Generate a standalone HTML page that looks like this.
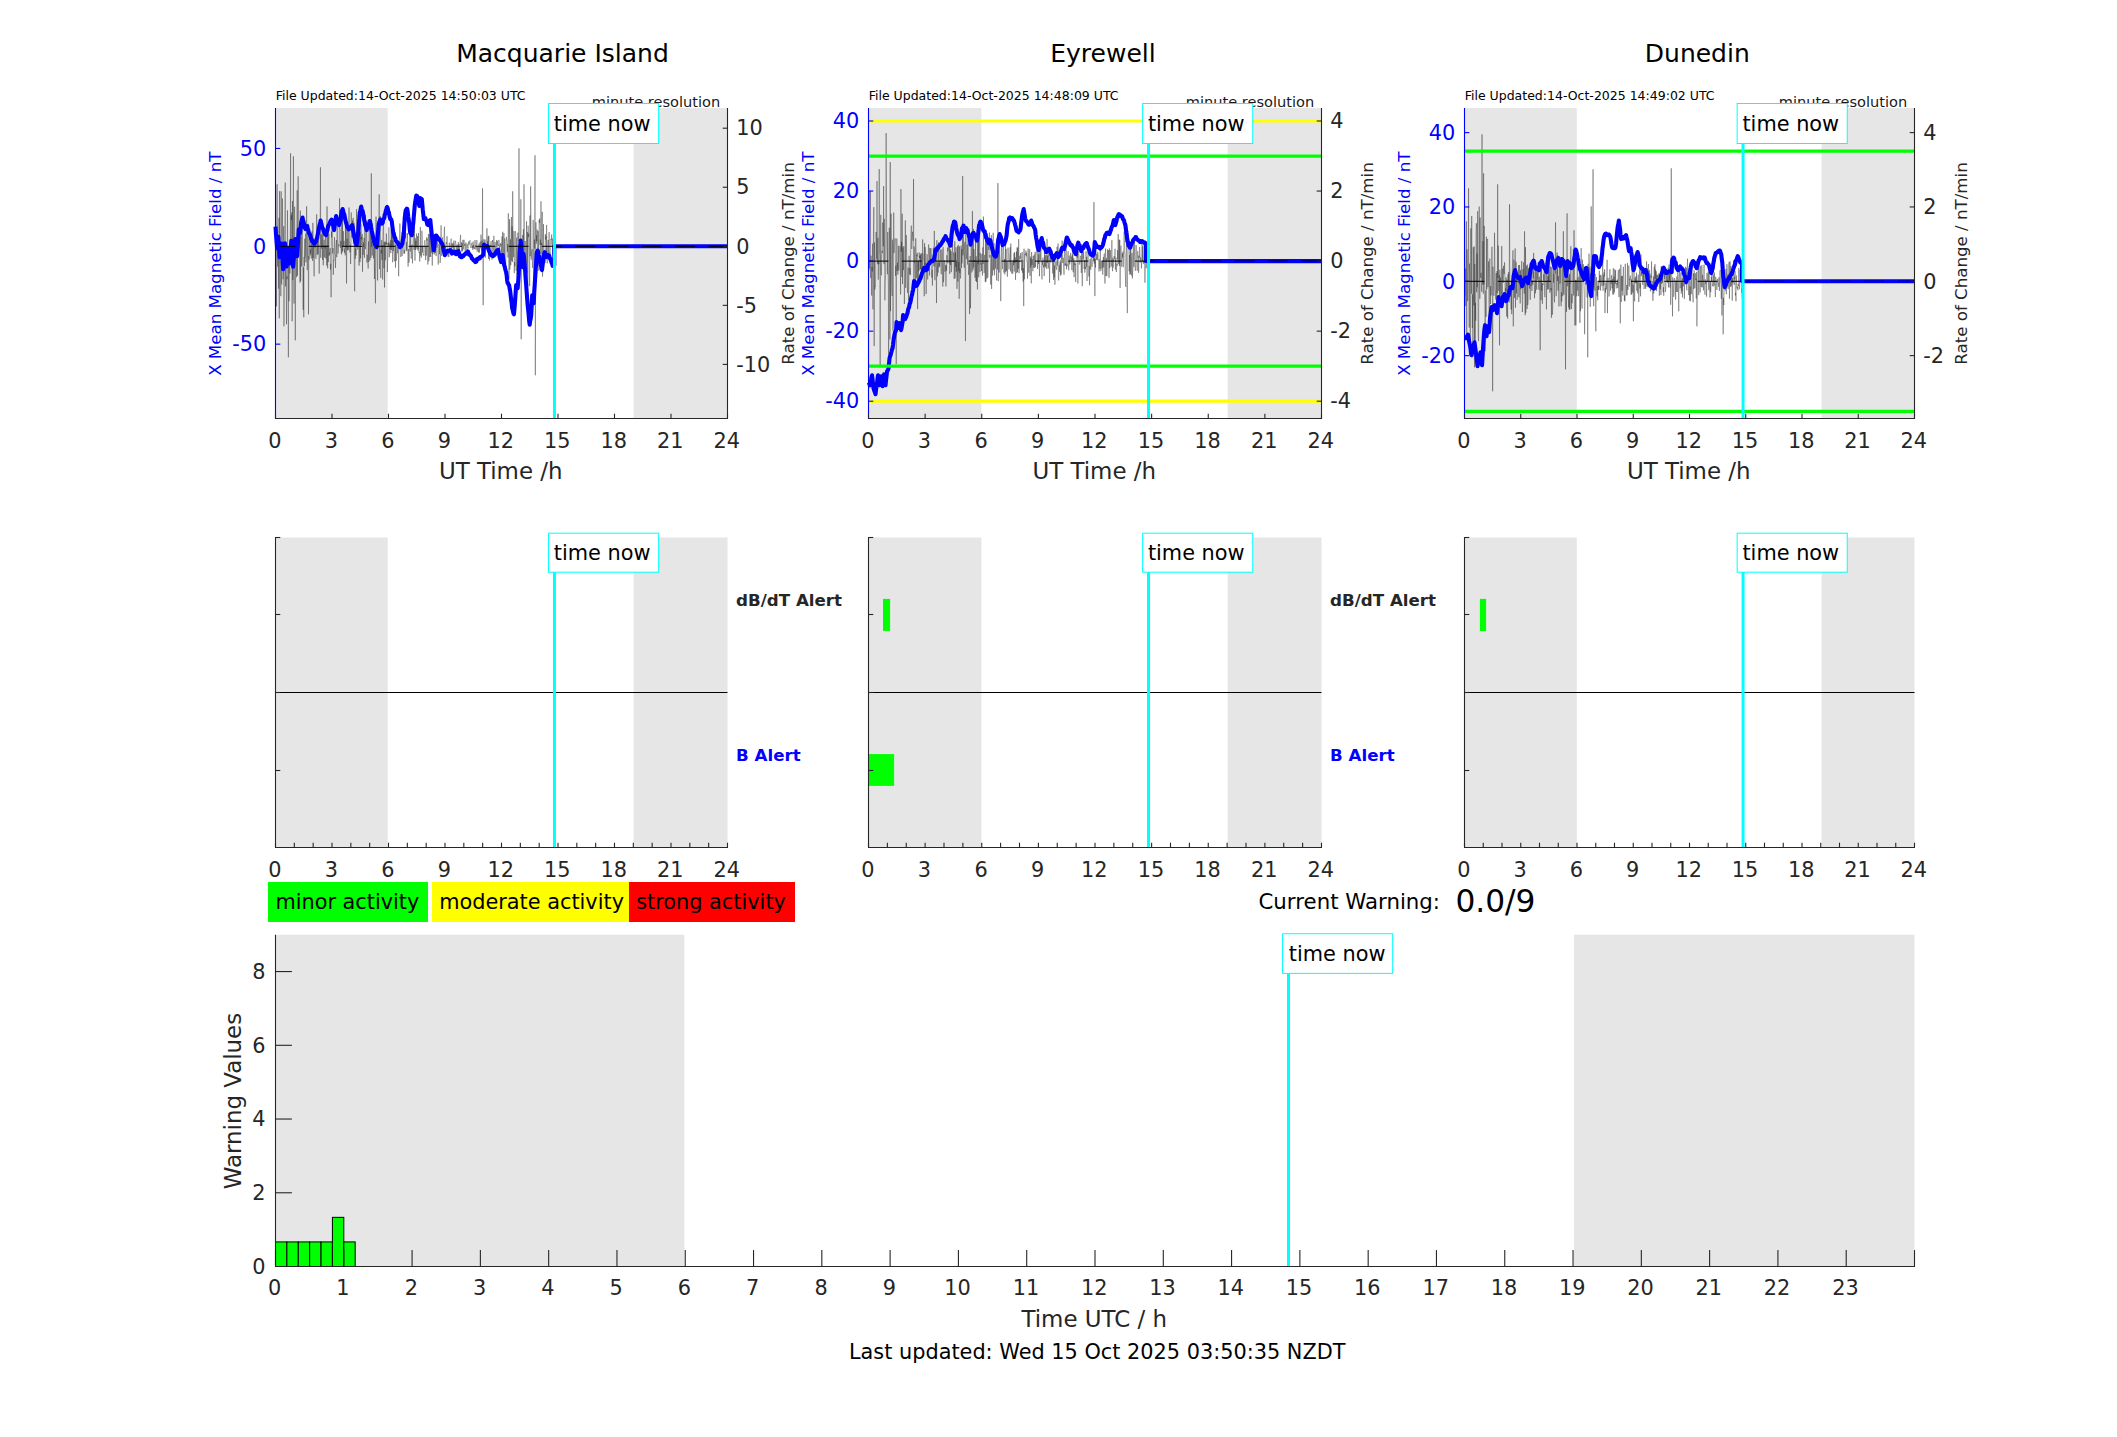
<!DOCTYPE html>
<html><head><meta charset="utf-8"><title>Geomagnetic activity</title>
<style>html,body{margin:0;padding:0;background:#fff}svg{display:block}text{font-family:"DejaVu Sans","Liberation Sans",sans-serif}</style>
</head><body>
<svg width="2117" height="1437" viewBox="0 0 2117 1437">
<rect width="2117" height="1437" fill="#fff"/>
<text x="720.2" y="106.6" font-size="14.58" fill="#1a1a1a" text-anchor="end" >minute resolution</text>
<text x="1314.2" y="106.6" font-size="14.58" fill="#1a1a1a" text-anchor="end" >minute resolution</text>
<text x="1907.2" y="106.6" font-size="14.58" fill="#1a1a1a" text-anchor="end" >minute resolution</text>
<rect x="275.5" y="108" width="112.2" height="310.5" fill="#e6e6e6" />
<rect x="633.63" y="108" width="93.87" height="310.5" fill="#e6e6e6" />
<path d="M275.5,188.63 275.81,232.23 276.13,243.19 276.44,306.38 276.76,255.24 277.07,184.3 277.39,248.97 277.7,266.51 278.01,247.71 278.33,261.69 278.64,288.66 278.96,217.78 279.27,318.3 279.58,191.18 279.9,244.69 280.21,259.35 280.53,263.88 280.84,296.16 281.16,191.3 281.47,281.8 281.78,284.51 282.1,252.93 282.41,198.39 282.73,238.67 283.04,279.31 283.35,269.29 283.67,226.14 283.98,326.3 284.3,271.09 284.61,253.72 284.93,222.28 285.24,182.59 285.55,286.41 285.87,266.5 286.18,272.21 286.5,324.29 286.81,276.08 287.12,279.2 287.44,210.29 287.75,250.51 288.07,297.97 288.38,357.3 288.7,257.57 289.01,301.26 289.32,265.05 289.64,264.74 289.95,273.59 290.27,245.38 290.58,153.3 290.89,254.58 291.21,215.07 291.52,220.1 291.84,212.37 292.15,321.3 292.47,201.06 292.78,280.2 293.09,220.75 293.41,156.3 293.72,264.39 294.04,303.56 294.35,215.06 294.66,206.68 294.98,252.14 295.29,340.3 295.61,266.14 295.92,241.89 296.24,241.83 296.55,277.27 296.86,233.6 297.18,190.27 297.49,275.81 297.81,220.49 298.12,176.3 298.43,196.47 298.75,232.88 299.06,227.81 299.38,228.98 299.69,239.7 300.01,282.73 300.32,210.55 300.63,280.95 300.95,240.37 301.26,231.28 301.58,266.44 301.89,242.87 302.2,219.19 302.52,246.85 302.83,266.2 303.15,309.71 303.46,267.26 303.78,317.3 304.09,257.01 304.4,265.82 304.72,238.78 305.03,257.51 305.35,248.39 305.66,233.59 305.97,262.26 306.29,251.88 306.6,206.27 306.92,230.13 307.23,270.15 307.55,247.77 307.86,235.96 308.17,223.77 308.49,314.3 308.8,255.93 309.12,259.52 309.43,234.66 309.74,240.67 310.06,255.57 310.37,249.68 310.69,253.72 311,233.42 311.32,258.52 311.63,237.71 311.94,231.31 312.26,237.77 312.57,260.89 312.89,222.85 313.2,258.09 313.51,238.91 313.83,259.31 314.14,276.32 314.46,242.43 314.77,241.39 315.09,247.62 315.4,241.61 315.71,257.28 316.03,258.74 316.34,249.13 316.66,214.29 316.97,232.69 317.28,254.96 317.6,237.03 317.91,254.21 318.23,253.84 318.54,232.18 318.86,254.9 319.17,273.64 319.48,261.04 319.8,244.87 320.11,244.23 320.43,167.3 320.74,257.78 321.05,234.61 321.37,239.52 321.68,248.67 322,233.08 322.31,238.54 322.63,259.84 322.94,229.53 323.25,265.34 323.57,245.37 323.88,246.26 324.2,239.75 324.51,257.45 324.82,246.84 325.14,248.45 325.45,231.14 325.77,258.36 326.08,245.2 326.4,250.23 326.71,265.74 327.02,206.36 327.34,247.36 327.65,268.32 327.97,225.51 328.28,262.04 328.59,240.87 328.91,233.71 329.22,255.72 329.54,252.54 329.85,254.09 330.17,248.16 330.48,269.52 330.79,263.91 331.11,297.3 331.42,231.61 331.74,237.4 332.05,222.02 332.37,236.56 332.68,253.47 332.99,248.02 333.31,274.77 333.62,259.77 333.94,260.6 334.25,242.51 334.56,237.23 334.88,254.15 335.19,254.54 335.51,267.94 335.82,248.09 336.14,242.83 336.45,240.07 336.76,257.24 337.08,218.52 337.39,229.61 337.71,247.63 338.02,253.66 338.33,250.79 338.65,244.19 338.96,246.56 339.28,239.56 339.59,198.3 339.91,227.27 340.22,230.32 340.53,247.83 340.85,240.9 341.16,251.69 341.48,254.47 341.79,219.73 342.1,252.69 342.42,218.64 342.73,251.15 343.05,242.79 343.36,231.18 343.68,245.97 343.99,240.85 344.3,249.65 344.62,252.89 344.93,248.6 345.25,255.3 345.56,223.7 345.87,248.62 346.19,222.45 346.5,283.46 346.82,246.05 347.13,238.53 347.45,250.36 347.76,231.17 348.07,237.46 348.39,250.09 348.7,240.29 349.02,207.48 349.33,242.82 349.64,242.17 349.96,252.37 350.27,244.46 350.59,264.07 350.9,249.03 351.22,212.45 351.53,231.6 351.84,237.47 352.16,231.11 352.47,220.41 352.79,238.14 353.1,217.83 353.41,231.6 353.73,244.01 354.04,222.68 354.36,278.7 354.67,291.3 354.99,242.65 355.3,258.81 355.61,248.44 355.93,255.06 356.24,255.27 356.56,209.14 356.87,237.71 357.18,247.04 357.5,228.3 357.81,249.55 358.13,234.19 358.44,241.5 358.76,224.06 359.07,265.7 359.38,235.84 359.7,244.63 360.01,262.1 360.33,231.76 360.64,258.2 360.95,224.21 361.27,239.3 361.58,236.82 361.9,245.2 362.21,233.98 362.53,271.71 362.84,245.28 363.15,254.85 363.47,242.45 363.78,246.94 364.1,237.92 364.41,257.69 364.72,221.31 365.04,214.84 365.35,249.13 365.67,246.5 365.98,242.4 366.3,229.15 366.61,220.57 366.92,262.65 367.24,254.64 367.55,260.69 367.87,261.37 368.18,268.5 368.49,241.39 368.81,261.98 369.12,225.96 369.44,234.02 369.75,260.24 370.07,260.3 370.38,254.66 370.69,227.11 371.01,258 371.32,173.3 371.64,246.99 371.95,241.09 372.26,255.5 372.58,223.54 372.89,242.91 373.21,239.88 373.52,258.47 373.84,246.87 374.15,248.55 374.46,279.03 374.78,242.14 375.09,272.36 375.41,303.3 375.72,267.87 376.03,216.63 376.35,241.49 376.66,233.55 376.98,232.64 377.29,266.07 377.61,280.48 377.92,251.26 378.23,232.76 378.55,244.92 378.86,234.35 379.18,194.3 379.49,269.18 379.8,241.87 380.12,215.93 380.43,255.14 380.75,277.87 381.06,249.91 381.38,253.48 381.69,239.88 382,259.88 382.32,244.93 382.63,279.53 382.95,233.6 383.26,222.89 383.57,227.3 383.89,268.31 384.2,241.7 384.52,287.53 384.83,242.29 385.15,247.2 385.46,260.19 385.77,241.55 386.09,244.41 386.4,233.52 386.72,244.58 387.03,243.16 387.35,272.08 387.66,261.53 387.97,252.5 388.29,242.47 388.6,246.38 388.92,227.28 389.23,257.23 389.54,249.28 389.86,243.16 390.17,249.13 390.49,240.31 390.8,253.14 391.12,229.45 391.43,250.05 391.74,233.32 392.06,246.65 392.37,229.24 392.69,262.27 393,240.4 393.31,251.23 393.63,243.67 393.94,232.73 394.26,259.24 394.57,261.3 394.89,257.62 395.2,243.42 395.51,267.64 395.83,245.21 396.14,260.82 396.46,259.2 396.77,250.46 397.08,242.02 397.4,253.34 397.71,251.82 398.03,246.77 398.34,249.35 398.66,276.24 398.97,251.11 399.28,245.35 399.6,234.06 399.91,223.51 400.23,238.88 400.54,245.42 400.85,257.01 401.17,245.31 401.48,237.67 401.8,232.31 402.11,256.03 402.43,243.69 402.74,237.31 403.05,225.8 403.37,243.49 403.68,252.25 404,253.87 404.31,250.22 404.62,253.44 404.94,237.26 405.25,234.61 405.57,238.39 405.88,233.3 406.2,251.24 406.51,242.16 406.82,250.48 407.14,245.83 407.45,233.02 407.77,246.62 408.08,266.47 408.39,249.03 408.71,253.99 409.02,262.56 409.34,254.81 409.65,235.97 409.97,228.24 410.28,251.55 410.59,235.56 410.91,233.69 411.22,258.7 411.54,246.72 411.85,246.77 412.16,244.46 412.48,263.26 412.79,250.01 413.11,235.07 413.42,232.91 413.74,226.9 414.05,249.87 414.36,226.54 414.68,239.27 414.99,260.63 415.31,238.28 415.62,250.01 415.93,240.85 416.25,247.38 416.56,233.64 416.88,243.61 417.19,249.25 417.51,236.22 417.82,243.63 418.13,250.6 418.45,233.01 418.76,250.54 419.08,252.92 419.39,251.9 419.7,261.48 420.02,252.02 420.33,227.07 420.65,255.67 420.96,246.21 421.28,257.71 421.59,252.59 421.9,230.7 422.22,237.1 422.53,252.55 422.85,246.24 423.16,254.74 423.47,254.31 423.79,255.63 424.1,255.44 424.42,242.98 424.73,240.24 425.05,241.35 425.36,248.02 425.67,260.05 425.99,246.98 426.3,255.63 426.62,237.41 426.93,240.7 427.24,238.79 427.56,249.8 427.87,264.47 428.19,236.7 428.5,234.02 428.82,261.13 429.13,244.92 429.44,234.4 429.76,257.02 430.07,228.71 430.39,249.77 430.7,256.97 431.01,232.7 431.33,243.38 431.64,252.76 431.96,237.61 432.27,265.59 432.59,228.42 432.9,254.33 433.21,243.49 433.53,250.21 433.84,242.02 434.16,237.61 434.47,254.35 434.78,238.62 435.1,249.17 435.41,253 435.73,248.48 436.04,256.06 436.36,254.02 436.67,237.1 436.98,247.76 437.3,235.27 437.61,242.13 437.93,256.19 438.24,264.57 438.55,252.91 438.87,243.76 439.18,246.22 439.5,254.25 439.81,236.61 440.13,262.98 440.44,258.31 440.75,245.09 441.07,225.43 441.38,242.37 441.7,255.84 442.01,240.68 442.32,239.83 442.64,237.43 442.95,250.17 443.27,253.84 443.58,245.19 443.9,242.39 444.21,231.29 444.52,226.7 444.84,253.17 445.15,251.12 445.47,246.87 445.78,248.46 446.1,242.24 446.41,242.38 446.72,244.3 447.04,236.24 447.35,247.44 447.67,253.56 447.98,256.63 448.29,252.81 448.61,252.61 448.92,257.13 449.24,242.68 449.55,245.34 449.87,248.36 450.18,250.39 450.49,253.1 450.81,250.12 451.12,238.63 451.44,255.46 451.75,245.71 452.06,243.23 452.38,245.74 452.69,247.61 453.01,243.14 453.32,250.84 453.64,244.02 453.95,240.44 454.26,250.56 454.58,249.65 454.89,245.75 455.21,242.27 455.52,240.85 455.83,243.53 456.15,249.02 456.46,250.82 456.78,245.32 457.09,244.69 457.41,250.74 457.72,246.06 458.03,244.96 458.35,242.1 458.66,250.27 458.98,244.07 459.29,250.98 459.6,248 459.92,246.61 460.23,240.25 460.55,234.83 460.86,245.29 461.18,244.34 461.49,242.31 461.8,251.68 462.12,243.28 462.43,251.2 462.75,239.89 463.06,240.62 463.37,244.33 463.69,249.46 464,239.77 464.32,245.29 464.63,245.87 464.95,244.04 465.26,252.96 465.57,244.64 465.89,242.44 466.2,244.99 466.52,245.74 466.83,249.98 467.14,243.82 467.46,245.53 467.77,246.27 468.09,248.46 468.4,243.02 468.72,241.53 469.03,244.82 469.34,242.88 469.66,241.25 469.97,240.26 470.29,245.44 470.6,247.11 470.91,247.87 471.23,246.25 471.54,244.22 471.86,242.76 472.17,247.91 472.49,245.74 472.8,250.04 473.11,241.56 473.43,247.76 473.74,244.96 474.06,248.98 474.37,247.41 474.68,248.85 475,239.97 475.31,244.97 475.63,246.92 475.94,249.8 476.26,248.55 476.57,244.21 476.88,240.17 477.2,251.55 477.51,249.66 477.83,246.94 478.14,248.6 478.45,252.35 478.77,246.23 479.08,243.47 479.4,252.58 479.71,245.41 480.03,242.04 480.34,241.76 480.65,248.34 480.97,234.62 481.28,243.37 481.6,250.76 481.91,240.67 482.22,252.96 482.54,188.3 482.85,254.18 483.17,305.3 483.48,249.94 483.8,239.23 484.11,241.68 484.42,243.51 484.74,245.93 485.05,239.52 485.37,257.55 485.68,243.6 485.99,243.72 486.31,242.79 486.62,241.14 486.94,228.3 487.25,245.57 487.57,241.28 487.88,245.35 488.19,236.49 488.51,258.91 488.82,235.7 489.14,250.57 489.45,260.42 489.76,253.03 490.08,247.39 490.39,245.09 490.71,246.59 491.02,241.2 491.34,246.52 491.65,246.69 491.96,259.68 492.28,243.26 492.59,240 492.91,248.92 493.22,258.01 493.53,254.64 493.85,235.86 494.16,250.08 494.48,250.45 494.79,251.41 495.11,242.05 495.42,249.97 495.73,251.72 496.05,255.7 496.36,246.97 496.68,240.05 496.99,247.22 497.3,240.79 497.62,245.21 497.93,245.38 498.25,245.18 498.56,246.09 498.88,239.9 499.19,243.26 499.5,249.91 499.82,245.5 500.13,246.77 500.45,243.27 500.76,245.17 501.08,243.71 501.39,255.52 501.7,243.74 502.02,236.41 502.33,257.52 502.65,231.75 502.96,243.37 503.27,248.51 503.59,266.92 503.9,233.02 504.22,258.9 504.53,253.34 504.85,238.36 505.16,262.03 505.47,261.76 505.79,264.44 506.1,248.07 506.42,236.92 506.73,239.84 507.04,239.73 507.36,251.89 507.67,244.01 507.99,257.63 508.3,213.31 508.62,243.07 508.93,278.95 509.24,264.26 509.56,219.25 509.87,269.51 510.19,253.78 510.5,239.37 510.81,265.24 511.13,227.78 511.44,216.98 511.76,260.78 512.07,226.37 512.39,262.11 512.7,191.3 513.01,241.89 513.33,242.01 513.64,257.1 513.96,230.96 514.27,273.2 514.58,262.05 514.9,266.24 515.21,232.2 515.53,231.27 515.84,233.77 516.16,270.76 516.47,243.78 516.78,237.57 517.1,277.29 517.41,262.12 517.73,233.8 518.04,232.62 518.35,241.31 518.67,235.66 518.98,148.3 519.3,243.33 519.61,248.48 519.93,263.74 520.24,251.24 520.55,254.44 520.87,199.25 521.18,339.3 521.5,246.52 521.81,251.07 522.12,248.68 522.44,251.96 522.75,234.93 523.07,246.92 523.38,229.22 523.7,261 524.01,184.3 524.32,227.58 524.64,271.04 524.95,242.69 525.27,240.96 525.58,253.57 525.89,256.93 526.21,286.73 526.52,221.32 526.84,266.53 527.15,273.12 527.47,232.11 527.78,285.71 528.09,225.64 528.41,237.01 528.72,233.54 529.04,249.79 529.35,272.13 529.66,286.27 529.98,215.55 530.29,256.23 530.61,186.3 530.92,213.18 531.24,259.48 531.55,251.25 531.86,251.22 532.18,249.15 532.49,267.76 532.81,257.83 533.12,219.91 533.43,230.72 533.75,305.18 534.06,286.16 534.38,239.53 534.69,248.59 535.01,155.3 535.32,375.3 535.63,282.1 535.95,222.3 536.26,243.68 536.58,235.39 536.89,241.28 537.2,229.57 537.52,251.24 537.83,256.96 538.15,230.98 538.46,242.88 538.78,270.74 539.09,220.08 539.4,222.85 539.72,218.46 540.03,244.77 540.35,239.57 540.66,253.6 540.97,201.3 541.29,245.05 541.6,242.95 541.92,258.83 542.23,211.81 542.55,276.67 542.86,261.57 543.17,258.42 543.49,224.11 543.8,250.49 544.12,251.32 544.43,259.22 544.74,256.79 545.06,263.07 545.37,234.13 545.69,239.53 546,236.15 546.32,252.51 546.63,224.91 546.94,254.46 547.26,263.39 547.57,248.73 547.89,245.16 548.2,240.01 548.51,254.77 548.83,241.38 549.14,232.09 549.46,253.39 549.77,252.46 550.09,260.47 550.4,244.3 550.71,239.17 551.03,239.92 551.34,239.36 551.66,234.52 551.97,245.24 552.28,238.37 552.6,254.22 552.91,252.88 553.23,244.3 553.54,253.11 553.86,241.54 554.17,234.86 554.48,242.94 554.8,252.44" fill="none" stroke="#202020" stroke-width="0.36" stroke-linejoin="bevel"/>
<path d="M275.5,226.59 276.02,234.74 276.55,241.53 277.07,248.3 277.49,244.22 277.92,241.11 278.35,236.71 278.96,246.85 279.56,257.09 280.07,254.37 280.57,250.4 281.07,247.11 281.57,243.44 282.1,252.12 282.62,260.57 283.15,269.09 283.61,261.85 284.06,256.28 284.52,248.58 284.98,243.41 285.54,251.37 286.1,259.33 286.66,266.47 287.13,263.07 287.59,257.62 288.05,252.49 288.51,248.36 288.95,252.49 289.4,259.44 289.85,263.37 290.32,255.05 290.79,248.8 291.26,240.78 291.72,246 292.19,253.73 292.66,260.62 293.13,266.74 293.66,259.98 294.19,252.85 294.72,245.48 295.25,239 295.74,242.81 296.23,248.16 296.71,252.14 297.2,256.2 297.73,247.16 298.25,238.4 298.78,229.33 299.21,230.07 299.63,232.4 300.06,233.09 300.56,228.78 301.06,223.07 301.56,220.81 302.06,219.45 302.56,217.56 303.06,220.31 303.56,221.55 304.06,224.07 304.57,226.86 305.07,228.24 305.57,229.08 306.14,227.93 306.7,227.62 307.27,226.08 307.7,229 308.14,229.4 308.57,232.09 309.07,233.43 309.58,234.01 310.08,235.1 310.58,236.48 311.08,238.49 311.58,239.34 312.08,241.11 312.58,240.84 313.08,241.33 313.58,242.6 314.08,243.46 314.58,243.61 315.09,242.76 315.59,241.86 316.09,241.11 316.59,239.09 317.09,237.81 317.59,235.1 318.09,232.72 318.59,229.34 319.09,227.08 319.59,224.75 320.1,223.4 320.6,220.57 321.1,222.42 321.6,224.69 322.1,227.08 322.6,228.32 323.1,229 323.6,231.33 324.1,232.09 324.6,231.64 325.1,234.39 325.61,234.1 326.11,235.1 326.61,232.4 327.11,231.24 327.61,229.08 328.11,226.14 328.61,225.08 329.11,224.37 329.61,223.5 330.11,222.07 330.62,220.92 331.12,220.19 331.62,219.57 332.12,221.92 332.62,222.87 333.12,225.08 333.62,227.59 334.12,230.09 334.62,225.77 335.12,221.07 335.62,219.42 336.13,216.06 336.63,217.79 337.13,220.09 337.63,222.07 338.13,223.69 338.63,222.67 339.13,225.08 339.63,223.26 340.13,220.69 340.63,220.07 341.14,214.55 341.64,211.05 342.14,211.12 342.64,209.05 343.14,210.83 343.64,213.2 344.14,214.06 344.64,216.26 345.14,219.03 345.64,221.07 346.14,222.83 346.65,224.78 347.15,227.08 347.65,227.54 348.15,228.15 348.65,229.43 349.15,229.08 349.65,228.31 350.15,227.96 350.65,227.08 351.15,226.27 351.66,225.82 352.16,225.08 352.66,227.03 353.16,231.02 353.66,233.09 354.16,235.48 354.66,238.46 355.16,241.11 355.66,242.32 356.16,244.32 356.66,245.11 357.17,241.39 357.67,237.11 358.17,233.09 358.67,226.51 359.17,219.92 359.67,213.05 360.17,211.3 360.67,208.99 361.17,206.54 361.67,208.75 362.18,210.44 362.68,211.05 363.18,214.14 363.68,215.83 364.18,220.28 364.68,222.07 365.18,225.26 365.68,225.88 366.18,227.85 366.68,230.09 367.18,227.62 367.69,227.84 368.19,226.08 368.69,223.85 369.19,223.74 369.69,221.07 370.19,222.04 370.69,225.78 371.19,228.08 371.69,230.96 372.19,232.87 372.7,235.16 373.2,238.1 373.7,239.99 374.2,241.32 374.7,243.17 375.2,245.11 375.7,245.76 376.2,246.14 376.7,247.12 377.2,240.98 377.7,235.1 378.21,230.02 378.71,224.07 379.21,222.36 379.71,221.16 380.21,219.57 380.71,220.15 381.21,222.07 381.71,221.86 382.21,223.57 382.71,222.72 383.22,219.15 383.72,218.94 384.22,218.06 384.72,214.85 385.22,213.94 385.72,211.05 386.22,209.86 386.72,207.66 387.22,207.04 387.72,208.4 388.22,211.12 388.73,212.05 389.23,214.35 389.73,217.03 390.23,219.06 390.73,218.9 391.23,219.56 391.73,221.07 392.23,225.38 392.73,229.08 393.23,232.68 393.74,233.45 394.24,236.1 394.74,237.66 395.24,238.07 395.74,240.53 396.24,241.11 396.74,241.59 397.24,242.36 397.74,242.31 398.24,244.11 398.74,244.62 399.25,245.7 399.75,247.11 400.25,247.12 400.75,245.7 401.25,246.14 401.75,244.66 402.25,244.11 402.75,240.93 403.25,237.56 403.75,235.1 404.26,225.62 404.76,218.06 405.26,213.37 405.76,210.05 406.26,210.59 406.76,208.7 407.26,209.05 407.76,212.46 408.26,216.98 408.76,220.07 409.26,223.22 409.77,228.97 410.27,233.09 410.77,233.45 411.27,234.5 411.77,235.1 412.27,231.53 412.77,226.97 413.27,223.07 413.77,216.92 414.27,211.42 414.78,205.04 415.28,202.19 415.78,198.27 416.28,195.52 416.78,196.06 417.28,196.09 417.78,197.52 418.28,201.04 418.78,202.51 419.28,206.04 419.78,202.11 420.29,198.02 420.79,199.29 421.29,199.11 421.79,199.03 422.29,204.35 422.79,210.05 423.29,214.13 423.79,219.06 424.29,218.36 424.79,218.88 425.3,218.06 425.8,219.56 426.3,220.71 426.8,222.07 427.3,224.48 427.8,223.59 428.3,225.08 428.8,222.78 429.3,221.07 429.8,220.34 430.3,220.07 430.81,225.18 431.31,230.09 431.81,234.58 432.31,238.6 432.81,243.11 433.31,247 433.81,250.12 434.31,246.4 434.81,241.92 435.31,238.1 435.82,235.48 436.32,235.6 436.82,236.89 437.32,236.8 437.82,237.84 438.32,239.1 438.82,239.5 439.32,239.39 439.82,240.13 440.32,241.11 440.82,241.86 441.33,242.38 441.83,243.49 442.33,244.11 442.83,245.93 443.33,248.61 443.83,251.13 444.33,252.5 444.83,255.13 445.33,253.93 445.83,253.24 446.34,252.13 446.84,251.69 447.34,250.79 447.84,251.22 448.34,251.13 448.84,250.91 449.34,251.2 449.84,250.3 450.34,250.12 450.84,250.6 451.34,250.94 451.85,253.43 452.35,253.13 452.85,252.31 453.35,251.96 453.85,252.25 454.35,252.13 454.85,251.58 455.35,253.67 455.85,253.69 456.35,254.13 456.86,253.6 457.36,252.05 457.86,251.55 458.36,251.13 458.86,252.81 459.36,254.09 459.86,256.4 460.36,256.14 460.86,257.03 461.36,255.72 461.86,257.14 462.37,256.65 462.87,255.9 463.37,256.2 463.87,255.05 464.37,254.63 464.87,254.45 465.37,253.59 465.87,253.68 466.37,253.73 466.87,252.18 467.38,252.13 467.88,251.48 468.38,252.53 468.88,254.46 469.38,254.13 469.88,254.97 470.38,255.44 470.88,255.83 471.38,257.14 471.88,258.44 472.38,258.77 472.89,259.3 473.39,260.14 473.89,260.32 474.39,261.03 474.89,261.44 475.39,262.15 475.89,261.81 476.39,261.57 476.89,259.16 477.39,259.64 477.9,258.51 478.4,258.96 478.9,258.76 479.4,257.56 479.9,258.14 480.42,257.27 480.95,256.89 481.48,256.36 482,256.14 482.55,255.34 483.1,255.11 483.6,249.78 484.1,244.59 484.6,245.89 485.1,246.64 485.61,247.1 486.11,247.14 486.61,246.72 487.11,245.92 487.61,246.1 488.11,247.47 488.61,249.79 489.11,251.11 489.61,252.14 490.11,253.52 490.62,254.23 491.12,255.11 491.62,255.37 492.12,255.83 492.62,254.99 493.12,256.12 493.62,255.5 494.12,254.76 494.62,255.05 495.12,254.11 495.62,252.71 496.13,252.21 496.63,251.11 497.13,250.34 497.63,250.33 498.13,249.6 498.63,252.47 499.13,254.47 499.63,257.12 500.13,258.81 500.63,260.52 501.14,262.13 501.64,260.18 502.14,257.24 502.64,255.11 503.14,258.44 503.64,261.52 504.14,265.13 504.64,266.32 505.14,268.7 505.64,270.59 506.14,272.15 506.65,275.34 507.15,280.32 507.65,283.17 508.15,283.38 508.65,284.87 509.15,285.17 509.65,288.68 510.15,290.87 510.65,295.19 511.15,299.48 511.66,302.97 512.16,308.22 512.61,309.62 513.06,311.55 513.51,313.7 513.96,314.23 514.56,307.6 515.16,300.2 515.66,291.8 516.16,285.17 516.66,285.94 517.17,287.96 517.67,288.18 518.17,281.72 518.67,275.15 519.17,264.06 519.67,251.11 520.17,245.4 520.67,240.59 521.17,245.5 521.67,251.11 522.18,258.33 522.68,267.14 523.18,260.37 523.68,254.11 524.18,260.27 524.68,265.13 525.18,271.26 525.68,278.91 526.18,285.17 526.68,292.06 527.18,298.92 527.69,305.21 528.19,309.91 528.69,314.95 529.19,320.99 529.69,324.75 530.19,320.84 530.69,318.77 531.19,315.23 531.69,306 532.19,295.19 532.7,298.07 533.2,301.4 533.7,303.21 534.2,292.51 534.7,285.17 535.2,277.44 535.7,270.14 536.2,260.94 536.7,253.11 537.2,251.58 537.7,250.61 538.21,252.67 538.71,255.16 539.21,257.12 539.71,259.27 540.21,262.89 540.71,265.13 541.14,265.89 541.58,268.95 542.01,270.14 542.61,264.94 543.22,260.12 543.72,256.42 544.22,253.75 544.72,252.11 545.22,252.73 545.72,254.84 546.22,257.12 546.72,256.62 547.22,256.78 547.72,255.99 548.22,255.11 548.73,255.32 549.23,255.79 549.73,257.89 550.23,259.12 550.73,259.61 551.23,261.63 551.73,263.13 552.17,263.35 552.6,265.81 553.03,265.13 554.3,265.13 554.3,246.3 727.5,246.3" fill="none" stroke="#0000ff" stroke-width="4.1" stroke-linejoin="round" stroke-linecap="butt"/>
<line x1="275.5" y1="246.3" x2="727.5" y2="246.3" stroke="#000" stroke-width="1.25" stroke-dasharray="20 13.3" stroke-opacity="0.82"/>
<line x1="554.45" y1="123.5" x2="554.45" y2="418.5" stroke="#00ffff" stroke-width="3" />
<rect x="548.55" y="103.5" width="110.1" height="40" fill="#fff" stroke="#00ffff" stroke-width="1"/>
<text x="553.85" y="131" font-size="20.83" fill="#000" text-anchor="start" >time now</text>
<line x1="275.5" y1="418.5" x2="727.5" y2="418.5" stroke="#262626" stroke-width="1.1" />
<line x1="727.5" y1="108" x2="727.5" y2="419" stroke="#262626" stroke-width="1.1" />
<line x1="275.5" y1="108" x2="275.5" y2="419" stroke="#0000ff" stroke-width="1.1" />
<line x1="275.5" y1="418.5" x2="275.5" y2="413.7" stroke="#262626" stroke-width="1.1" />
<text x="274.8" y="448" font-size="20.83" fill="#262626" text-anchor="middle" >0</text>
<line x1="332" y1="418.5" x2="332" y2="413.7" stroke="#262626" stroke-width="1.1" />
<text x="331.3" y="448" font-size="20.83" fill="#262626" text-anchor="middle" >3</text>
<line x1="388.5" y1="418.5" x2="388.5" y2="413.7" stroke="#262626" stroke-width="1.1" />
<text x="387.8" y="448" font-size="20.83" fill="#262626" text-anchor="middle" >6</text>
<line x1="445" y1="418.5" x2="445" y2="413.7" stroke="#262626" stroke-width="1.1" />
<text x="444.3" y="448" font-size="20.83" fill="#262626" text-anchor="middle" >9</text>
<line x1="501.5" y1="418.5" x2="501.5" y2="413.7" stroke="#262626" stroke-width="1.1" />
<text x="500.8" y="448" font-size="20.83" fill="#262626" text-anchor="middle" >12</text>
<line x1="558" y1="418.5" x2="558" y2="413.7" stroke="#262626" stroke-width="1.1" />
<text x="557.3" y="448" font-size="20.83" fill="#262626" text-anchor="middle" >15</text>
<line x1="614.5" y1="418.5" x2="614.5" y2="413.7" stroke="#262626" stroke-width="1.1" />
<text x="613.8" y="448" font-size="20.83" fill="#262626" text-anchor="middle" >18</text>
<line x1="671" y1="418.5" x2="671" y2="413.7" stroke="#262626" stroke-width="1.1" />
<text x="670.3" y="448" font-size="20.83" fill="#262626" text-anchor="middle" >21</text>
<line x1="727.5" y1="418.5" x2="727.5" y2="413.7" stroke="#262626" stroke-width="1.1" />
<text x="726.8" y="448" font-size="20.83" fill="#262626" text-anchor="middle" >24</text>
<line x1="275.5" y1="148.45" x2="280.3" y2="148.45" stroke="#0000ff" stroke-width="1.1" />
<text x="266.3" y="155.65" font-size="20.83" fill="#0000ff" text-anchor="end" >50</text>
<line x1="275.5" y1="246.3" x2="280.3" y2="246.3" stroke="#0000ff" stroke-width="1.1" />
<text x="266.3" y="253.5" font-size="20.83" fill="#0000ff" text-anchor="end" >0</text>
<line x1="275.5" y1="344.15" x2="280.3" y2="344.15" stroke="#0000ff" stroke-width="1.1" />
<text x="266.3" y="351.35" font-size="20.83" fill="#0000ff" text-anchor="end" >-50</text>
<line x1="727.5" y1="128.2" x2="722.7" y2="128.2" stroke="#262626" stroke-width="1.1" />
<text x="736.2" y="135.4" font-size="20.83" fill="#262626" text-anchor="start" >10</text>
<line x1="727.5" y1="187.25" x2="722.7" y2="187.25" stroke="#262626" stroke-width="1.1" />
<text x="736.2" y="194.45" font-size="20.83" fill="#262626" text-anchor="start" >5</text>
<line x1="727.5" y1="246.3" x2="722.7" y2="246.3" stroke="#262626" stroke-width="1.1" />
<text x="736.2" y="253.5" font-size="20.83" fill="#262626" text-anchor="start" >0</text>
<line x1="727.5" y1="305.35" x2="722.7" y2="305.35" stroke="#262626" stroke-width="1.1" />
<text x="736.2" y="312.55" font-size="20.83" fill="#262626" text-anchor="start" >-5</text>
<line x1="727.5" y1="364.4" x2="722.7" y2="364.4" stroke="#262626" stroke-width="1.1" />
<text x="736.2" y="371.6" font-size="20.83" fill="#262626" text-anchor="start" >-10</text>
<text x="500.7" y="478.6" font-size="22.92" fill="#262626" text-anchor="middle" >UT Time /h</text>
<text transform="translate(221.2 263.7) rotate(-90)" font-size="16.67" fill="#0000ff" text-anchor="middle">X Mean Magnetic Field / nT</text>
<text transform="translate(794 263.5) rotate(-90)" font-size="16.67" fill="#262626" text-anchor="middle">Rate of Change / nT/min</text>
<text x="562.5" y="61.8" font-size="25" fill="#000" text-anchor="middle" >Macquarie Island</text>
<text x="275.7" y="100" font-size="12.5" fill="#000" text-anchor="start" >File Updated:14-Oct-2025 14:50:03 UTC</text>
<rect x="868.5" y="108" width="112.9" height="310.5" fill="#e6e6e6" />
<rect x="1227.62" y="108" width="93.88" height="310.5" fill="#e6e6e6" />
<path d="M868.5,248.48 868.81,270.57 869.13,191.45 869.44,268.33 869.76,257.95 870.07,215.64 870.39,191.1 870.7,278.13 871.02,255.7 871.33,270.61 871.65,295.52 871.96,267.02 872.28,271.47 872.59,243.64 872.91,309.32 873.22,281.4 873.54,227.69 873.85,207.16 874.17,346.1 874.48,242.34 874.8,289.66 875.11,286.07 875.43,286.53 875.74,273.44 876.06,231.98 876.37,240.26 876.69,259.37 877,181.1 877.32,261 877.63,264.21 877.95,237.8 878.26,279.67 878.58,261.28 878.89,264.08 879.21,169.1 879.52,253.75 879.84,255.26 880.15,367.1 880.46,263.67 880.78,214.86 881.09,270.17 881.41,275.27 881.72,258.11 882.04,250.54 882.35,253.08 882.67,222.64 882.98,227.15 883.3,246.35 883.61,186.1 883.93,264.11 884.24,218.84 884.56,254.48 884.87,300.36 885.19,281.77 885.5,278.43 885.82,226.5 886.13,133.1 886.45,193.11 886.76,241.33 887.08,257.34 887.39,274.23 887.71,232.13 888.02,268.19 888.34,285.08 888.65,367.1 888.97,260.74 889.28,227.74 889.6,263.14 889.91,339.36 890.23,162.1 890.54,311.18 890.86,220.59 891.17,213.79 891.49,272.05 891.8,290.55 892.11,295.94 892.43,239.64 892.74,266 893.06,331.1 893.37,266.83 893.69,212.64 894,253.17 894.32,244.32 894.63,243.88 894.95,238.88 895.26,238.32 895.58,276.1 895.89,265.57 896.21,364.1 896.52,275.38 896.84,238.55 897.15,270.98 897.47,262.65 897.78,274.67 898.1,272.69 898.41,245.76 898.73,269.75 899.04,270.43 899.36,251.58 899.67,251.47 899.99,245.9 900.3,257.84 900.62,294.53 900.93,189.1 901.25,251.66 901.56,241.87 901.88,277.04 902.19,213.78 902.51,284.16 902.82,247.54 903.14,260.25 903.45,270.13 903.77,246.02 904.08,266.29 904.39,304 904.71,282.47 905.02,252.75 905.34,220.38 905.65,287.96 905.97,261.41 906.28,234.96 906.6,250.2 906.91,267.83 907.23,286.48 907.54,292.79 907.86,274.36 908.17,267.61 908.49,300.72 908.8,290.84 909.12,255.79 909.43,268.23 909.75,274.22 910.06,268.16 910.38,275.13 910.69,245.14 911.01,232.97 911.32,225.65 911.64,249.01 911.95,248.41 912.27,236.34 912.58,231.78 912.9,236.48 913.21,240.8 913.53,179.1 913.84,287.71 914.16,246.56 914.47,262.65 914.79,262.02 915.1,275.69 915.42,282.36 915.73,238.26 916.04,253.55 916.36,278.32 916.67,254.81 916.99,256.19 917.3,252.75 917.62,309.1 917.93,261.65 918.25,281.35 918.56,260.52 918.88,271.25 919.19,252.52 919.51,257.82 919.82,255.72 920.14,269.88 920.45,254.72 920.77,268.94 921.08,253.18 921.4,265.69 921.71,278.08 922.03,253.56 922.34,271.74 922.66,239.42 922.97,254.48 923.29,254.13 923.6,259.6 923.92,261.98 924.23,296.24 924.55,243.18 924.86,272.99 925.18,247.18 925.49,270.39 925.81,263.18 926.12,294.1 926.44,276.18 926.75,263.59 927.07,254.19 927.38,267.1 927.69,279.42 928.01,269.4 928.32,257.48 928.64,244.51 928.95,249.02 929.27,256.95 929.58,275.47 929.9,248.01 930.21,260.75 930.53,264.56 930.84,247.99 931.16,252.21 931.47,253.91 931.79,277.66 932.1,269.87 932.42,285.57 932.73,258.31 933.05,260.69 933.36,247.73 933.68,258.06 933.99,266.37 934.31,230.89 934.62,275.82 934.94,280.2 935.25,269.82 935.57,253.61 935.88,266.08 936.2,267.38 936.51,303.1 936.83,240.13 937.14,269.97 937.46,276.47 937.77,262.84 938.09,272.57 938.4,264.4 938.72,242.16 939.03,267.43 939.34,261.81 939.66,266.32 939.97,263.81 940.29,249.51 940.6,253.59 940.92,265.93 941.23,274.24 941.55,262.99 941.86,249.36 942.18,261.34 942.49,262.9 942.81,286.54 943.12,247.12 943.44,282.06 943.75,279.11 944.07,266.37 944.38,260.61 944.7,260.47 945.01,271.8 945.33,265.49 945.64,269.59 945.96,286.41 946.27,264.67 946.59,270.79 946.9,255.25 947.22,263.13 947.53,247.66 947.85,251.4 948.16,248.58 948.48,244.28 948.79,251.46 949.11,263.41 949.42,242.3 949.74,273.99 950.05,261.59 950.37,249.18 950.68,265.08 951,251.2 951.31,272.22 951.62,268.57 951.94,253.55 952.25,251.27 952.57,244.57 952.88,262.07 953.2,256.99 953.51,252.47 953.83,254.66 954.14,279.02 954.46,268.94 954.77,241.27 955.09,278.19 955.4,252.47 955.72,266.94 956.03,247.35 956.35,271.76 956.66,260.43 956.98,288.83 957.29,261.67 957.61,246.42 957.92,281.6 958.24,244.92 958.55,270.85 958.87,261.8 959.18,298.89 959.5,246.42 959.81,273.01 960.13,268.42 960.44,278.47 960.76,274.58 961.07,245.58 961.39,268 961.7,248.97 962.02,263.49 962.33,256.42 962.65,176.1 962.96,255.31 963.27,225.72 963.59,252.1 963.9,254.07 964.22,267.77 964.53,246.82 964.85,241.74 965.16,285.54 965.48,341.1 965.79,230.43 966.11,254.84 966.42,259.18 966.74,252.69 967.05,244.59 967.37,248.95 967.68,264.51 968,229.32 968.31,260.9 968.63,274.78 968.94,269.87 969.26,263.2 969.57,314.1 969.89,264.12 970.2,255.99 970.52,308.2 970.83,273.9 971.15,245.36 971.46,251.71 971.78,272.53 972.09,271.66 972.41,211.1 972.72,265.35 973.04,270.25 973.35,228.87 973.67,267.57 973.98,249.06 974.3,261.91 974.61,260.2 974.92,277.78 975.24,275.64 975.55,239.01 975.87,281.06 976.18,256.25 976.5,281.97 976.81,265.29 977.13,261.75 977.44,289.43 977.76,241.41 978.07,264.28 978.39,240.09 978.7,277.23 979.02,245.38 979.33,220.93 979.65,257.38 979.96,272.2 980.28,252.9 980.59,258.69 980.91,264.68 981.22,263.15 981.54,270.94 981.85,253.9 982.17,267.66 982.48,275.6 982.8,247.33 983.11,263.9 983.43,216.57 983.74,265.29 984.06,273.13 984.37,270.3 984.69,254.9 985,272.74 985.32,282.15 985.63,233.84 985.95,281.69 986.26,236.02 986.57,258.77 986.89,278.64 987.2,233.63 987.52,264.45 987.83,277.65 988.15,260.03 988.46,240.04 988.78,249.93 989.09,247.62 989.41,232.53 989.72,257.61 990.04,255 990.35,264.76 990.67,284.62 990.98,263.43 991.3,235.05 991.61,288.94 991.93,239.53 992.24,256.91 992.56,275.66 992.87,260.05 993.19,232.79 993.5,270.22 993.82,248.55 994.13,243.17 994.45,275.29 994.76,251.11 995.08,252.66 995.39,268.56 995.71,250.34 996.02,266.76 996.34,270.14 996.65,280.38 996.97,255.12 997.28,267.67 997.6,269.53 997.91,183.1 998.22,281.1 998.54,272.49 998.85,250.72 999.17,272.5 999.48,241.18 999.8,255.56 1000.11,258.99 1000.43,276.9 1000.74,301.1 1001.06,279.4 1001.37,254.43 1001.69,240.31 1002,263.5 1002.32,269.19 1002.63,261.32 1002.95,250.66 1003.26,245.91 1003.58,254.47 1003.89,272.6 1004.21,268.2 1004.52,258.99 1004.84,274.36 1005.15,263.6 1005.47,237.84 1005.78,272.07 1006.1,249.07 1006.41,270.77 1006.73,264.63 1007.04,261.83 1007.36,276.67 1007.67,262.19 1007.99,247.7 1008.3,253.7 1008.62,253.9 1008.93,269.4 1009.25,262.59 1009.56,259.02 1009.88,254.11 1010.19,247.29 1010.5,271.37 1010.82,243.64 1011.13,264.04 1011.45,263.68 1011.76,273.49 1012.08,261.79 1012.39,263.44 1012.71,273.74 1013.02,264.08 1013.34,259.86 1013.65,265.3 1013.97,253.14 1014.28,271.56 1014.6,252.02 1014.91,263 1015.23,257.31 1015.54,279.89 1015.86,259.79 1016.17,261.73 1016.49,251.59 1016.8,273.08 1017.12,247.26 1017.43,272.08 1017.75,247.75 1018.06,255.24 1018.38,268.74 1018.69,239.14 1019.01,273.19 1019.32,262.84 1019.64,259.01 1019.95,255.83 1020.27,258.82 1020.58,253.04 1020.9,256.47 1021.21,260.77 1021.53,270.45 1021.84,264.57 1022.15,252.03 1022.47,272.82 1022.78,259.99 1023.1,281.65 1023.41,268.07 1023.73,306.1 1024.04,248.64 1024.36,279.34 1024.67,263.5 1024.99,253.82 1025.3,255.02 1025.62,253.38 1025.93,250.5 1026.25,256.38 1026.56,252.78 1026.88,261.64 1027.19,261.36 1027.51,278.61 1027.82,259.42 1028.14,248.51 1028.45,268.52 1028.77,272.7 1029.08,260.2 1029.4,249.86 1029.71,249.15 1030.03,275.95 1030.34,256.65 1030.66,267.59 1030.97,258.36 1031.29,283.39 1031.6,252.01 1031.92,265 1032.23,259.08 1032.55,262.87 1032.86,271.27 1033.18,255.93 1033.49,265.83 1033.8,267.86 1034.12,254.63 1034.43,261.92 1034.75,267.96 1035.06,251.9 1035.38,266.88 1035.69,261.41 1036.01,253.92 1036.32,251.88 1036.64,249.38 1036.95,244.93 1037.27,260.66 1037.58,268.88 1037.9,245.05 1038.21,247.55 1038.53,264.01 1038.84,254.28 1039.16,264.77 1039.47,276.22 1039.79,251.03 1040.1,257.74 1040.42,259.91 1040.73,244.73 1041.05,247.23 1041.36,267.31 1041.68,271.82 1041.99,279.4 1042.31,261.04 1042.62,264.83 1042.94,257.6 1043.25,260.98 1043.57,267.42 1043.88,264.99 1044.2,276.08 1044.51,249.29 1044.83,266.21 1045.14,255.22 1045.45,267.41 1045.77,260.42 1046.08,255.06 1046.4,263.72 1046.71,268.9 1047.03,238.87 1047.34,263 1047.66,255.67 1047.97,261.87 1048.29,268.47 1048.6,248.57 1048.92,257.37 1049.23,257.86 1049.55,282.75 1049.86,258.37 1050.18,253.12 1050.49,258.41 1050.81,262.51 1051.12,249.79 1051.44,258.77 1051.75,255.6 1052.07,251.29 1052.38,251.64 1052.7,273.52 1053.01,257.92 1053.33,268.29 1053.64,280.04 1053.96,258.41 1054.27,277.47 1054.59,265.49 1054.9,284.7 1055.22,270.7 1055.53,265.51 1055.85,261.17 1056.16,266.16 1056.48,269.77 1056.79,269.54 1057.1,246.75 1057.42,265.51 1057.73,262.02 1058.05,243.46 1058.36,277.41 1058.68,280.46 1058.99,270.67 1059.31,264.8 1059.62,271.84 1059.94,261.5 1060.25,261.94 1060.57,275.62 1060.88,259.6 1061.2,274.55 1061.51,254.57 1061.83,259.05 1062.14,240.63 1062.46,253.42 1062.77,263.07 1063.09,257.94 1063.4,259.79 1063.72,268.09 1064.03,274.77 1064.35,250.88 1064.66,246.95 1064.98,265.51 1065.29,263.58 1065.61,265.7 1065.92,251.7 1066.24,249.83 1066.55,269.32 1066.87,264.34 1067.18,266.18 1067.5,259.15 1067.81,253.96 1068.13,251.14 1068.44,263.74 1068.76,270.36 1069.07,256.1 1069.38,255.58 1069.7,264.42 1070.01,259.56 1070.33,257.78 1070.64,252.89 1070.96,260.46 1071.27,256.57 1071.59,259.45 1071.9,270.16 1072.22,254.53 1072.53,260.18 1072.85,251.24 1073.16,272.21 1073.48,267.68 1073.79,258.05 1074.11,277.17 1074.42,262.35 1074.74,265.29 1075.05,264.99 1075.37,263.46 1075.68,281.97 1076,260.71 1076.31,260.41 1076.63,251.28 1076.94,247.59 1077.26,257.78 1077.57,252.44 1077.89,283.51 1078.2,255.98 1078.52,250.76 1078.83,252.96 1079.15,258.88 1079.46,264.43 1079.78,264.51 1080.09,260.88 1080.41,257.09 1080.72,255.75 1081.03,261.98 1081.35,272.86 1081.66,244.04 1081.98,269.2 1082.29,286.17 1082.61,247.75 1082.92,251.62 1083.24,259.33 1083.55,251.99 1083.87,256.94 1084.18,268.89 1084.5,260.01 1084.81,272.67 1085.13,267.18 1085.44,269.21 1085.76,259.64 1086.07,251.15 1086.39,267.14 1086.7,256.79 1087.02,281.06 1087.33,271.13 1087.65,256.09 1087.96,252.13 1088.28,252.27 1088.59,251.09 1088.91,276.44 1089.22,265.97 1089.54,285.25 1089.85,262.56 1090.17,258.9 1090.48,264.28 1090.8,269.78 1091.11,257.08 1091.43,256.12 1091.74,259.85 1092.06,266.75 1092.37,260.7 1092.68,260.3 1093,258.6 1093.31,255.28 1093.63,261.35 1093.94,202.1 1094.26,263.66 1094.57,257.63 1094.89,296.1 1095.2,259.06 1095.52,267.51 1095.83,248.53 1096.15,257.32 1096.46,259.79 1096.78,254.01 1097.09,253.95 1097.41,260.26 1097.72,251.73 1098.04,254.97 1098.35,259.09 1098.67,261.07 1098.98,271.47 1099.3,259.29 1099.61,259.44 1099.93,268.9 1100.24,248.36 1100.56,261.14 1100.87,271.14 1101.19,265.01 1101.5,261.5 1101.82,261.43 1102.13,268.4 1102.45,260.77 1102.76,274.74 1103.08,265.12 1103.39,257.03 1103.71,267.4 1104.02,255.05 1104.33,253.6 1104.65,266.67 1104.96,283.56 1105.28,252.86 1105.59,248.49 1105.91,275.99 1106.22,259.13 1106.54,258.04 1106.85,276.22 1107.17,266.11 1107.48,249.33 1107.8,258.94 1108.11,260.82 1108.43,250.14 1108.74,266.47 1109.06,277.8 1109.37,248.28 1109.69,268.23 1110,260.93 1110.32,249.99 1110.63,258.23 1110.95,259.26 1111.26,266.49 1111.58,255.36 1111.89,240.21 1112.21,266.16 1112.52,271.19 1112.84,257.9 1113.15,267.57 1113.47,259.54 1113.78,260.49 1114.1,256.06 1114.41,258.83 1114.73,257.74 1115.04,248.77 1115.36,269.73 1115.67,260.21 1115.99,257.64 1116.3,272.04 1116.61,269.5 1116.93,263.76 1117.24,265.65 1117.56,250.17 1117.87,259.4 1118.19,234.1 1118.5,264.14 1118.82,263.54 1119.13,239.51 1119.45,265.86 1119.76,240.06 1120.08,288.1 1120.39,266.81 1120.71,247.48 1121.02,245.67 1121.34,256.29 1121.65,266.65 1121.97,261.87 1122.28,253.26 1122.6,257.59 1122.91,251.62 1123.23,267.28 1123.54,252.52 1123.86,247.81 1124.17,231.82 1124.49,252.84 1124.8,252.81 1125.12,269.64 1125.43,275.49 1125.75,286.86 1126.06,254.78 1126.38,235.59 1126.69,261.47 1127.01,291.94 1127.32,313.1 1127.64,262.94 1127.95,231.1 1128.26,235.63 1128.58,242.48 1128.89,238.37 1129.21,271.32 1129.52,255.04 1129.84,274.78 1130.15,245.28 1130.47,274.13 1130.78,244.93 1131.1,257.27 1131.41,257.63 1131.73,275.77 1132.04,252.96 1132.36,278.4 1132.67,272.18 1132.99,269.15 1133.3,241.08 1133.62,259.4 1133.93,266.75 1134.25,255.55 1134.56,238.43 1134.88,261.88 1135.19,270.18 1135.51,270.68 1135.82,260.96 1136.14,245.11 1136.45,261.76 1136.77,262.66 1137.08,269.5 1137.4,270.85 1137.71,251.06 1138.03,257.38 1138.34,256.79 1138.66,272.89 1138.97,255.51 1139.29,257.65 1139.6,247 1139.91,251.1 1140.23,262.67 1140.54,257.64 1140.86,257.76 1141.17,261.46 1141.49,268.3 1141.8,252.72 1142.12,240.83 1142.43,261.46 1142.75,246.3 1143.06,263.46 1143.38,263.61 1143.69,260.88 1144.01,263.22 1144.32,252.27 1144.64,250.67 1144.95,282.66 1145.27,253.68 1145.58,257.28 1145.9,245.78 1146.21,268.25 1146.53,259.55 1146.84,250.36 1147.16,253.1 1147.47,247.76 1147.79,267.21 1148.1,266.28 1148.42,255.72" fill="none" stroke="#202020" stroke-width="0.36" stroke-linejoin="bevel"/>
<path d="M868.51,382.24 869.01,382.51 869.51,384.52 870.01,385.24 870.51,383.28 871.02,380.45 871.52,377.01 872.02,375.22 872.52,379.27 873.02,383.76 873.52,388.25 874.02,390.01 874.52,391.41 875.02,392.54 875.52,394.26 876.02,389.68 876.53,385.93 877.03,383.24 877.53,378.69 878.03,375.22 878.53,378.01 879.03,381.57 879.53,385.24 880.03,381.65 880.53,379.16 881.03,376.22 881.54,379.24 882.04,383.02 882.54,386.24 883.04,382.24 883.54,378.56 884.04,374.22 884.54,377.37 885.04,381.08 885.54,385.24 886.04,379.95 886.54,375.94 887.05,371.22 887.55,370.62 888.05,369.85 888.55,368.21 889.05,363.29 889.55,358.19 890.05,356.45 890.55,355.26 891.05,353.18 891.55,351.49 892.06,349.29 892.56,348.17 893.06,344.57 893.56,340.16 894.06,336.92 894.56,334.14 895.06,332 895.56,331.37 896.06,330.14 896.56,322.12 897.06,323.67 897.57,326.11 898.07,328.13 898.57,326.07 899.07,324.62 899.57,323.12 900.07,325.13 900.57,327.73 901.07,330.14 901.57,327.78 902.07,324.93 902.58,322.12 903.08,315.11 903.58,316.11 904.08,317.67 904.58,317.37 905.08,319.12 905.58,317.96 906.08,317.25 906.58,315.67 907.08,314.11 907.58,312.72 908.09,309.59 908.59,308.1 909.09,307.06 909.59,304.37 910.09,303.09 910.59,301.37 911.09,298.55 911.59,296.07 912.09,294.54 912.59,291.64 913.1,290.06 913.6,285.43 914.1,281.04 914.6,281.28 915.1,283.75 915.6,285.21 916.1,286.05 916.6,285.51 917.1,285.18 917.6,284.15 918.1,283.05 918.61,282.14 919.11,281.37 919.61,279.77 920.11,279.04 920.61,278.07 921.11,276.21 921.61,274.74 922.11,273.03 922.61,271.73 923.11,270.23 923.62,268.78 924.12,268.02 924.62,268.4 925.12,269.44 925.62,268.58 926.12,270.02 926.62,268.87 927.12,269.5 927.62,266.43 928.12,265.01 928.62,264.23 929.13,263.78 929.63,262.74 930.13,262.01 930.63,261.87 931.13,261.66 931.63,260.78 932.13,261.01 932.63,261.23 933.13,260.19 933.63,260.19 934.14,259 934.01,259.13 934.51,256.29 935.01,253.78 935.51,250.11 936.01,249.55 936.51,250.52 937.01,248.11 937.51,248.44 938.02,248.17 938.52,247.03 939.02,246.61 939.52,245.22 940.02,245.27 940.52,245.1 941.02,244.1 941.52,243.51 942.02,242.38 942.52,241.53 943.02,241.1 943.53,239.51 944.03,238.93 944.53,238.09 945.03,237.51 945.53,236.09 946.03,237.53 946.53,238.52 947.03,239.09 947.53,239.81 948.03,240.77 948.54,241.41 949.04,242.1 949.54,243.57 950.04,244.66 950.54,245.61 951.04,240.74 951.54,235.09 952.04,231.07 952.54,227.07 953.04,225.25 953.54,224.21 954.05,221.56 954.55,223.14 955.05,222.13 955.55,224.06 956.05,227.3 956.55,230.08 957.05,231.97 957.55,233.9 958.05,235.09 958.55,235.28 959.06,236.86 959.56,239.09 960.06,237.87 960.56,237.15 961.06,236.09 961.56,231.46 962.06,228.07 962.56,227.84 963.06,226.95 963.56,225.57 964.06,229.17 964.57,232.08 965.07,230.52 965.57,228.07 966.07,228.1 966.57,229.32 967.07,230.08 967.57,230.13 968.07,233.26 968.57,234.08 969.07,236.19 969.58,237.09 970.08,241.05 970.58,244.6 971.08,240.79 971.58,238.09 972.08,236.43 972.58,235.26 973.08,233.08 973.58,232.9 974.08,234.19 974.58,234.96 975.09,235.09 975.59,236.04 976.09,237.53 976.59,239.85 977.09,240.6 977.59,237.74 978.09,234.08 978.59,230.34 979.09,225.07 979.59,224.04 980.1,222.2 980.6,221.56 981.1,222.7 981.6,223.56 982.1,225.07 982.6,227.43 983.1,230.08 983.6,230.67 984.1,231.56 984.6,231.08 985.1,233.17 985.61,235.09 986.11,237.78 986.61,237.72 987.11,240.1 987.61,241.01 988.11,242.13 988.61,243.1 989.11,240.97 989.61,240.23 990.11,240.1 990.62,241.93 991.12,244.1 991.62,246.18 992.12,248.36 992.62,250.11 993.12,251.84 993.62,253.31 994.12,255.12 994.62,254.9 995.12,256.17 995.62,256.63 996.13,256.01 996.63,253.88 997.13,252.12 997.63,245.75 998.13,240.1 998.63,238.18 999.13,236.34 999.63,234.08 1000.13,236.12 1000.63,236.48 1001.14,238.09 1001.64,240.72 1002.14,243.09 1002.64,245.1 1003.14,244.63 1003.64,244.41 1004.14,244.1 1004.64,242.56 1005.14,241.49 1005.64,240.1 1006.14,237.76 1006.65,235.09 1007.15,229.44 1007.65,225.07 1008.15,222.67 1008.65,221.24 1009.15,218.05 1009.65,218.24 1010.15,217.4 1010.65,218.55 1011.15,219.2 1011.66,218.12 1012.16,218.05 1012.66,218.84 1013.16,219.7 1013.66,220.06 1014.16,221.54 1014.66,222.87 1015.16,225.07 1015.66,226.7 1016.16,229.24 1016.66,231.08 1017.17,231.26 1017.67,231.28 1018.17,231.58 1018.67,232.39 1019.17,230.99 1019.67,231 1020.17,230.08 1020.67,227.75 1021.17,223.06 1021.67,219.16 1022.18,215.05 1022.68,212.86 1023.18,210.93 1023.68,209.04 1024.18,212.14 1024.68,215.05 1025.18,218.56 1025.68,220.06 1026.18,221.34 1026.68,221.32 1027.18,222.06 1027.69,222.62 1028.19,224.17 1028.69,224.57 1029.19,224.75 1029.69,222.62 1030.19,222.06 1030.69,222.21 1031.19,220.56 1031.69,222.28 1032.19,223.61 1032.7,225.07 1033.2,225.81 1033.7,226.42 1034.2,227.57 1034.7,228.62 1035.2,230.08 1035.7,234.8 1036.2,238.09 1036.7,240.38 1037.2,243.91 1037.7,247.11 1038.21,248.63 1038.71,250.11 1039.21,247.2 1039.71,245.22 1040.21,243.1 1040.71,240.7 1041.21,240.14 1041.71,238.09 1042.21,240.48 1042.71,242.1 1043.22,243.39 1043.72,246.9 1044.22,248.11 1044.72,248.6 1045.22,249.11 1045.72,250.18 1046.22,252.12 1046.72,251.72 1047.22,249.53 1047.72,250.11 1048.22,249.58 1048.73,249.26 1049.23,248.61 1049.73,250.33 1050.23,250.78 1050.73,252.12 1051.23,254.43 1051.73,255.25 1052.23,257.13 1052.73,258.3 1053.23,257.94 1053.74,259.13 1054.24,257.97 1054.74,256.3 1055.24,255.12 1055.74,254.56 1056.24,255 1056.74,253.12 1057.24,254.47 1057.74,255.83 1058.24,257.13 1058.74,256.54 1059.25,255.98 1059.75,255.12 1060.25,252.27 1060.75,252.2 1061.25,250.11 1061.75,248.72 1062.25,247.69 1062.75,248.11 1063.25,248.51 1063.75,248.11 1064.26,249.11 1064.76,246.91 1065.26,245.05 1065.76,242.1 1066.26,239.86 1066.76,237.59 1067.26,237.88 1067.76,239.32 1068.26,240.1 1068.76,242.22 1069.26,242.14 1069.77,243.1 1070.27,244.74 1070.77,245.24 1071.27,245.1 1071.77,245.13 1072.27,246.94 1072.77,247.11 1073.27,247.73 1073.77,250.09 1074.27,251.12 1074.78,252.43 1075.28,253.03 1075.78,254.12 1076.28,250.59 1076.78,248.58 1077.28,246.11 1077.78,244.18 1078.28,242.6 1078.78,244.37 1079.28,245.57 1079.78,247.11 1080.29,248.73 1080.79,249.61 1081.29,251.12 1081.79,249.23 1082.29,249.1 1082.79,248.11 1083.29,248.25 1083.79,246.39 1084.29,245.67 1084.79,245.61 1085.3,243.92 1085.8,245.37 1086.3,243.15 1086.8,243.1 1087.3,245.35 1087.8,246.53 1088.3,248.11 1088.8,249.29 1089.3,250.66 1089.8,252.89 1090.3,253.12 1090.81,254.56 1091.31,254.41 1091.81,254.39 1092.31,255.12 1092.81,255.59 1093.31,254.84 1093.81,254.12 1094.31,248.18 1094.81,242.1 1095.31,243.72 1095.82,244.36 1096.32,246.11 1096.82,246.77 1097.32,246.46 1097.82,246.74 1098.32,247.11 1098.82,246.86 1099.32,247.92 1099.82,248.47 1100.32,248.61 1100.82,247.18 1101.33,247.54 1101.83,246.98 1102.33,246.11 1102.83,245.16 1103.33,243.4 1103.83,241.1 1104.33,238.78 1104.83,237.77 1105.33,235.09 1105.83,234.75 1106.34,233.72 1106.84,232.79 1107.34,232.58 1107.84,233.46 1108.34,233.79 1108.84,233.46 1109.34,234.08 1109.84,232.93 1110.34,231.2 1110.84,230.08 1111.34,228.32 1111.85,226.91 1112.35,226.07 1112.85,224.41 1113.35,222.24 1113.85,220.06 1114.35,221.94 1114.85,223.53 1115.35,225.07 1115.85,223.1 1116.35,221.57 1116.86,219.06 1117.36,216.92 1117.86,217 1118.36,214.68 1118.86,214.05 1119.36,214.27 1119.86,214.78 1120.36,215.05 1120.86,215.56 1121.36,216.3 1121.86,216.07 1122.37,217.05 1122.87,218.97 1123.37,219.65 1123.87,220.06 1124.37,222.01 1124.87,223.79 1125.37,225.07 1125.87,228.86 1126.37,233.08 1126.87,236.14 1127.38,241.1 1127.88,241.93 1128.38,244.7 1128.88,246.11 1129.33,245.43 1129.79,247.6 1130.21,247.61 1130.62,246.16 1131.04,245.09 1131.54,243.58 1132.04,242.79 1132.55,242.08 1133.05,240.21 1133.55,240.02 1134.05,239.08 1134.55,238.62 1135.05,238.4 1135.55,237.07 1136.05,237.04 1136.55,238.99 1137.05,239.08 1137.56,239.7 1138.06,240.03 1138.56,240.58 1139.06,240.72 1139.56,241.03 1140.06,241.96 1140.56,241.08 1141.06,242.02 1141.56,241.78 1142.06,241.05 1142.57,241.58 1143.07,241.71 1143.57,242.57 1144.07,242.54 1144.57,242.59 1144.99,242.49 1145.4,244.25 1145.82,243.59 1145.82,260.97 1147.92,260.97 1147.92,261.1 1321.5,261.1" fill="none" stroke="#0000ff" stroke-width="4.1" stroke-linejoin="round" stroke-linecap="butt"/>
<line x1="868.5" y1="261.1" x2="1321.5" y2="261.1" stroke="#000" stroke-width="1.25" stroke-dasharray="20 13.3" stroke-opacity="0.82"/>
<line x1="869" y1="121" x2="1321" y2="121" stroke="#ffff00" stroke-width="3.2" />
<line x1="869" y1="401.2" x2="1321" y2="401.2" stroke="#ffff00" stroke-width="3.2" />
<line x1="869" y1="156.03" x2="1321" y2="156.03" stroke="#00ff00" stroke-width="3.2" />
<line x1="869" y1="366.18" x2="1321" y2="366.18" stroke="#00ff00" stroke-width="3.2" />
<line x1="1148.52" y1="123.5" x2="1148.52" y2="418.5" stroke="#00ffff" stroke-width="3" />
<rect x="1142.62" y="103.5" width="110.1" height="40" fill="#fff" stroke="#00ffff" stroke-width="1"/>
<text x="1147.92" y="131" font-size="20.83" fill="#000" text-anchor="start" >time now</text>
<line x1="868.5" y1="418.5" x2="1321.5" y2="418.5" stroke="#262626" stroke-width="1.1" />
<line x1="1321.5" y1="108" x2="1321.5" y2="419" stroke="#262626" stroke-width="1.1" />
<line x1="868.5" y1="108" x2="868.5" y2="419" stroke="#0000ff" stroke-width="1.1" />
<line x1="868.5" y1="418.5" x2="868.5" y2="413.7" stroke="#262626" stroke-width="1.1" />
<text x="867.8" y="448" font-size="20.83" fill="#262626" text-anchor="middle" >0</text>
<line x1="925.12" y1="418.5" x2="925.12" y2="413.7" stroke="#262626" stroke-width="1.1" />
<text x="924.42" y="448" font-size="20.83" fill="#262626" text-anchor="middle" >3</text>
<line x1="981.75" y1="418.5" x2="981.75" y2="413.7" stroke="#262626" stroke-width="1.1" />
<text x="981.05" y="448" font-size="20.83" fill="#262626" text-anchor="middle" >6</text>
<line x1="1038.38" y1="418.5" x2="1038.38" y2="413.7" stroke="#262626" stroke-width="1.1" />
<text x="1037.67" y="448" font-size="20.83" fill="#262626" text-anchor="middle" >9</text>
<line x1="1095" y1="418.5" x2="1095" y2="413.7" stroke="#262626" stroke-width="1.1" />
<text x="1094.3" y="448" font-size="20.83" fill="#262626" text-anchor="middle" >12</text>
<line x1="1151.62" y1="418.5" x2="1151.62" y2="413.7" stroke="#262626" stroke-width="1.1" />
<text x="1150.92" y="448" font-size="20.83" fill="#262626" text-anchor="middle" >15</text>
<line x1="1208.25" y1="418.5" x2="1208.25" y2="413.7" stroke="#262626" stroke-width="1.1" />
<text x="1207.55" y="448" font-size="20.83" fill="#262626" text-anchor="middle" >18</text>
<line x1="1264.88" y1="418.5" x2="1264.88" y2="413.7" stroke="#262626" stroke-width="1.1" />
<text x="1264.17" y="448" font-size="20.83" fill="#262626" text-anchor="middle" >21</text>
<line x1="1321.5" y1="418.5" x2="1321.5" y2="413.7" stroke="#262626" stroke-width="1.1" />
<text x="1320.8" y="448" font-size="20.83" fill="#262626" text-anchor="middle" >24</text>
<line x1="868.5" y1="121" x2="873.3" y2="121" stroke="#0000ff" stroke-width="1.1" />
<text x="859.3" y="128.2" font-size="20.83" fill="#0000ff" text-anchor="end" >40</text>
<line x1="868.5" y1="191.05" x2="873.3" y2="191.05" stroke="#0000ff" stroke-width="1.1" />
<text x="859.3" y="198.25" font-size="20.83" fill="#0000ff" text-anchor="end" >20</text>
<line x1="868.5" y1="261.1" x2="873.3" y2="261.1" stroke="#0000ff" stroke-width="1.1" />
<text x="859.3" y="268.3" font-size="20.83" fill="#0000ff" text-anchor="end" >0</text>
<line x1="868.5" y1="331.15" x2="873.3" y2="331.15" stroke="#0000ff" stroke-width="1.1" />
<text x="859.3" y="338.35" font-size="20.83" fill="#0000ff" text-anchor="end" >-20</text>
<line x1="868.5" y1="401.2" x2="873.3" y2="401.2" stroke="#0000ff" stroke-width="1.1" />
<text x="859.3" y="408.4" font-size="20.83" fill="#0000ff" text-anchor="end" >-40</text>
<line x1="1321.5" y1="121" x2="1316.7" y2="121" stroke="#262626" stroke-width="1.1" />
<text x="1330.2" y="128.2" font-size="20.83" fill="#262626" text-anchor="start" >4</text>
<line x1="1321.5" y1="191.05" x2="1316.7" y2="191.05" stroke="#262626" stroke-width="1.1" />
<text x="1330.2" y="198.25" font-size="20.83" fill="#262626" text-anchor="start" >2</text>
<line x1="1321.5" y1="261.1" x2="1316.7" y2="261.1" stroke="#262626" stroke-width="1.1" />
<text x="1330.2" y="268.3" font-size="20.83" fill="#262626" text-anchor="start" >0</text>
<line x1="1321.5" y1="331.15" x2="1316.7" y2="331.15" stroke="#262626" stroke-width="1.1" />
<text x="1330.2" y="338.35" font-size="20.83" fill="#262626" text-anchor="start" >-2</text>
<line x1="1321.5" y1="401.2" x2="1316.7" y2="401.2" stroke="#262626" stroke-width="1.1" />
<text x="1330.2" y="408.4" font-size="20.83" fill="#262626" text-anchor="start" >-4</text>
<text x="1094.2" y="478.6" font-size="22.92" fill="#262626" text-anchor="middle" >UT Time /h</text>
<text transform="translate(814.2 263.7) rotate(-90)" font-size="16.67" fill="#0000ff" text-anchor="middle">X Mean Magnetic Field / nT</text>
<text transform="translate(1373 263.5) rotate(-90)" font-size="16.67" fill="#262626" text-anchor="middle">Rate of Change / nT/min</text>
<text x="1103" y="61.8" font-size="25" fill="#000" text-anchor="middle" >Eyrewell</text>
<text x="868.7" y="100" font-size="12.5" fill="#000" text-anchor="start" >File Updated:14-Oct-2025 14:48:09 UTC</text>
<rect x="1464.5" y="108" width="112.3" height="310.5" fill="#e6e6e6" />
<rect x="1821.6" y="108" width="92.9" height="310.5" fill="#e6e6e6" />
<path d="M1464.5,228.56 1464.81,295.86 1465.13,280.27 1465.44,268.53 1465.75,306.05 1466.06,281.24 1466.38,221.3 1466.69,336.58 1467,249.2 1467.32,262.33 1467.63,301.08 1467.94,286.73 1468.25,265.27 1468.57,188.3 1468.88,289.02 1469.19,327.59 1469.5,263.61 1469.82,277.34 1470.13,341.3 1470.44,330.19 1470.76,228.37 1471.07,276.34 1471.38,293.75 1471.69,215.97 1472.01,282.76 1472.32,328.13 1472.63,294.4 1472.95,355.38 1473.26,247.28 1473.57,294.82 1473.88,305.43 1474.2,246.4 1474.51,367.3 1474.82,263.83 1475.13,348.75 1475.45,302.96 1475.76,320.75 1476.07,233.34 1476.39,223.28 1476.7,292.13 1477.01,253.61 1477.32,287.24 1477.64,211.3 1477.95,306.19 1478.26,337.86 1478.58,341.08 1478.89,268.58 1479.2,206.59 1479.51,272.33 1479.83,298.78 1480.14,217.5 1480.45,273.37 1480.76,277.91 1481.08,272.84 1481.39,285.74 1481.7,291.69 1482.02,134.3 1482.33,264.41 1482.64,284.5 1482.95,241.02 1483.27,293.76 1483.58,173.3 1483.89,284.59 1484.21,225.93 1484.52,293.64 1484.83,309.58 1485.14,351.3 1485.46,313.84 1485.77,290.48 1486.08,316.92 1486.39,236.69 1486.71,289.61 1487.02,278.15 1487.33,240.18 1487.65,238.92 1487.96,287.21 1488.27,272.21 1488.58,261.46 1488.9,286.43 1489.21,327.88 1489.52,264.41 1489.84,258.58 1490.15,270.91 1490.46,304.02 1490.77,286.04 1491.09,295.36 1491.4,288.31 1491.71,251.47 1492.02,246.72 1492.34,266.43 1492.65,391.3 1492.96,266.56 1493.28,281.57 1493.59,282.94 1493.9,295.85 1494.21,282.5 1494.53,232.74 1494.84,262.68 1495.15,288.61 1495.47,291.36 1495.78,299.68 1496.09,273.36 1496.4,273.02 1496.72,311.73 1497.03,271.07 1497.34,293.24 1497.65,184.3 1497.97,278.03 1498.28,245.58 1498.59,290.8 1498.91,287.26 1499.22,275.12 1499.53,345.3 1499.84,269.7 1500.16,306.52 1500.47,277.57 1500.78,280.85 1501.1,290 1501.41,294.4 1501.72,246.07 1502.03,289.15 1502.35,298.25 1502.66,268.57 1502.97,278.7 1503.28,282.81 1503.6,265.82 1503.91,271.65 1504.22,274.17 1504.54,262.37 1504.85,275.75 1505.16,293.34 1505.47,288.35 1505.79,291.41 1506.1,277.24 1506.41,302.1 1506.73,316.54 1507.04,279.61 1507.35,306.85 1507.66,318.5 1507.98,274.21 1508.29,294.77 1508.6,271.93 1508.91,291.3 1509.23,302.36 1509.54,204.3 1509.85,290.91 1510.17,286.38 1510.48,296.57 1510.79,286.5 1511.1,309.6 1511.42,281.03 1511.73,314.14 1512.04,284.84 1512.36,268.61 1512.67,261.5 1512.98,250.31 1513.29,326.3 1513.61,267.67 1513.92,259.7 1514.23,263.8 1514.54,297.83 1514.86,274 1515.17,248.43 1515.48,307.67 1515.8,272.94 1516.11,261.84 1516.42,293.45 1516.73,271.17 1517.05,299.85 1517.36,295.32 1517.67,295.36 1517.99,278 1518.3,282.86 1518.61,265.05 1518.92,297.26 1519.24,283.52 1519.55,265.09 1519.86,271.88 1520.18,303.48 1520.49,270.2 1520.8,289.26 1521.11,274.89 1521.43,276.3 1521.74,261.04 1522.05,279.36 1522.36,312.06 1522.68,304.02 1522.99,269.18 1523.3,285.58 1523.62,262.45 1523.93,276.77 1524.24,293.69 1524.55,231.3 1524.87,294.64 1525.18,315.2 1525.49,247.23 1525.81,312.83 1526.12,270.8 1526.43,265.83 1526.74,278.88 1527.06,309.02 1527.37,264.6 1527.68,305.01 1527.99,303.39 1528.31,287.24 1528.62,268.35 1528.93,276.37 1529.25,268 1529.56,288.57 1529.87,284.12 1530.18,299.92 1530.5,286.49 1530.81,271.6 1531.12,286.2 1531.44,273.53 1531.75,290.66 1532.06,290.97 1532.37,280.66 1532.69,284.48 1533,271.64 1533.31,278.4 1533.62,252.96 1533.94,284.87 1534.25,285 1534.56,298.21 1534.88,280.93 1535.19,270.21 1535.5,293.32 1535.81,282.11 1536.13,269.65 1536.44,283.36 1536.75,289.71 1537.07,265.55 1537.38,279.73 1537.69,274.89 1538,262.37 1538.32,262.8 1538.63,286.91 1538.94,289.78 1539.25,276.72 1539.57,283.44 1539.88,311.91 1540.19,350.3 1540.51,280.99 1540.82,269.46 1541.13,300.15 1541.44,260.6 1541.76,290.75 1542.07,283.03 1542.38,303.78 1542.7,283.98 1543.01,284.98 1543.32,284.27 1543.63,274.28 1543.95,280.33 1544.26,265.7 1544.57,288.78 1544.88,297.21 1545.2,281.6 1545.51,271.28 1545.82,261.45 1546.14,268.33 1546.45,309.42 1546.76,275.3 1547.07,258.07 1547.39,280.3 1547.7,289.5 1548.01,276.39 1548.33,289.29 1548.64,271.16 1548.95,281.51 1549.26,259.22 1549.58,273.39 1549.89,292.76 1550.2,271.73 1550.51,266.5 1550.83,290.28 1551.14,288.03 1551.45,317.7 1551.77,267.04 1552.08,290.57 1552.39,314.75 1552.7,309.16 1553.02,284.81 1553.33,269.33 1553.64,282.7 1553.96,273.88 1554.27,298.61 1554.58,302.36 1554.89,267.4 1555.21,273.58 1555.52,222.3 1555.83,261.21 1556.14,296.19 1556.46,287.88 1556.77,265.25 1557.08,252.57 1557.4,281.17 1557.71,255.07 1558.02,290.7 1558.33,276.15 1558.65,284.04 1558.96,306.49 1559.27,277.18 1559.59,266.29 1559.9,283.7 1560.21,282.45 1560.52,258.4 1560.84,301.99 1561.15,306.27 1561.46,292.28 1561.77,301.53 1562.09,258.39 1562.4,275.99 1562.71,296.21 1563.03,291.97 1563.34,231.28 1563.65,292.04 1563.96,294.8 1564.28,275.87 1564.59,269.85 1564.9,277.3 1565.22,297.81 1565.53,369.3 1565.84,270.33 1566.15,282.3 1566.47,311.89 1566.78,259.34 1567.09,213.3 1567.41,285.87 1567.72,286.27 1568.03,276.85 1568.34,294.58 1568.66,307.52 1568.97,274.99 1569.28,309.62 1569.59,273.58 1569.91,309.72 1570.22,283.25 1570.53,283.97 1570.85,246.3 1571.16,302.17 1571.47,309 1571.78,293.93 1572.1,303.24 1572.41,292.8 1572.72,273.11 1573.04,266.3 1573.35,249.1 1573.66,295.57 1573.97,230.25 1574.29,243.01 1574.6,285.23 1574.91,325.43 1575.22,282.9 1575.54,279.91 1575.85,325.38 1576.16,279.89 1576.48,285.13 1576.79,296.3 1577.1,269.36 1577.41,262.17 1577.73,290.54 1578.04,276.95 1578.35,293.7 1578.67,296.18 1578.98,279.8 1579.29,271.43 1579.6,291.9 1579.92,322.91 1580.23,270.31 1580.54,311.22 1580.85,279.02 1581.17,248.07 1581.48,281.61 1581.79,303.46 1582.11,308.47 1582.42,259.57 1582.73,281.61 1583.04,271.31 1583.36,264.18 1583.67,282.2 1583.98,286.98 1584.3,298.72 1584.61,334.27 1584.92,309.13 1585.23,282.57 1585.55,284.5 1585.86,273.94 1586.17,283.61 1586.48,278.4 1586.8,266.99 1587.11,297.35 1587.42,286.5 1587.74,357.3 1588.05,263.74 1588.36,280.61 1588.67,272.49 1588.99,253.6 1589.3,261.94 1589.61,282.37 1589.93,267.22 1590.24,306.85 1590.55,273.57 1590.86,278.83 1591.18,206.3 1591.49,257.59 1591.8,293.76 1592.11,269.29 1592.43,288.58 1592.74,264.35 1593.05,169.3 1593.37,295.03 1593.68,306.22 1593.99,283.41 1594.3,267.92 1594.62,287.06 1594.93,290.65 1595.24,273.98 1595.56,321.95 1595.87,331.3 1596.18,300.95 1596.49,277.19 1596.81,291.37 1597.12,296.27 1597.43,285.96 1597.74,300.24 1598.06,281.47 1598.37,289.75 1598.68,285.87 1599,289.8 1599.31,270.72 1599.62,282.55 1599.93,275.3 1600.25,275.82 1600.56,290.51 1600.87,274.8 1601.19,277.32 1601.5,277.72 1601.81,285.84 1602.12,286.16 1602.44,272.36 1602.75,256.48 1603.06,290.74 1603.37,275.23 1603.69,285.46 1604,272.39 1604.31,276.33 1604.63,269.28 1604.94,312.97 1605.25,288.11 1605.56,292.49 1605.88,282.52 1606.19,289.49 1606.5,288.54 1606.82,273.6 1607.13,259.83 1607.44,313.16 1607.75,284.8 1608.07,277.78 1608.38,281.25 1608.69,285.19 1609,296.53 1609.32,291.9 1609.63,273.15 1609.94,269.22 1610.26,280.21 1610.57,290.68 1610.88,280.23 1611.19,283.99 1611.51,275.19 1611.82,279.98 1612.13,288.26 1612.45,279.17 1612.76,294.48 1613.07,272.14 1613.38,268.1 1613.7,294.45 1614.01,276.6 1614.32,292.35 1614.63,269.36 1614.95,271.23 1615.26,283.86 1615.57,270.23 1615.89,286.09 1616.2,288.44 1616.51,287.61 1616.82,282.86 1617.14,284.89 1617.45,279.59 1617.76,288.11 1618.08,272.83 1618.39,270 1618.7,286.78 1619.01,297.08 1619.33,273.3 1619.64,268.73 1619.95,283.1 1620.27,323.3 1620.58,278.36 1620.89,264.5 1621.2,301.96 1621.52,276.04 1621.83,284.75 1622.14,290.71 1622.45,275.83 1622.77,295.56 1623.08,278.04 1623.39,266.9 1623.71,279.36 1624.02,290.9 1624.33,300.78 1624.64,295.33 1624.96,301.44 1625.27,263.82 1625.58,284.03 1625.9,292.71 1626.21,295.46 1626.52,292.94 1626.83,284.96 1627.15,295.27 1627.46,263.05 1627.77,289.43 1628.08,289.81 1628.4,277.96 1628.71,265.54 1629.02,266.93 1629.34,286.59 1629.65,278.53 1629.96,279.68 1630.27,275.56 1630.59,278.53 1630.9,291.51 1631.21,294.92 1631.53,279.4 1631.84,294.08 1632.15,266.59 1632.46,280.87 1632.78,292.36 1633.09,284.77 1633.4,321.3 1633.71,282.71 1634.03,271.13 1634.34,296.83 1634.65,301.36 1634.97,277.67 1635.28,283.2 1635.59,279.55 1635.9,276.53 1636.22,283.24 1636.53,272.74 1636.84,290.86 1637.16,280.61 1637.47,290.18 1637.78,293.37 1638.09,274.73 1638.41,275.23 1638.72,302.01 1639.03,293.26 1639.34,278.19 1639.66,269.91 1639.97,288.38 1640.28,283.25 1640.6,296.32 1640.91,254.64 1641.22,276.26 1641.53,271.81 1641.85,274.32 1642.16,271.41 1642.47,274.86 1642.79,284.85 1643.1,273.43 1643.41,280.46 1643.72,267.6 1644.04,289.07 1644.35,287.01 1644.66,274.33 1644.97,267.81 1645.29,279.77 1645.6,288.8 1645.91,282.55 1646.23,286.54 1646.54,261.37 1646.85,271.86 1647.16,268.03 1647.48,278.14 1647.79,287.12 1648.1,269.01 1648.42,263.98 1648.73,275.21 1649.04,281.55 1649.35,270 1649.67,285.18 1649.98,273.32 1650.29,288.72 1650.6,291.42 1650.92,275.4 1651.23,277.78 1651.54,261.48 1651.86,284.21 1652.17,281.06 1652.48,293.16 1652.79,300.74 1653.11,299.82 1653.42,276.48 1653.73,293.54 1654.05,269.58 1654.36,266.51 1654.67,284.27 1654.98,264.05 1655.3,278.94 1655.61,269.6 1655.92,283.65 1656.23,271.32 1656.55,291.11 1656.86,274.82 1657.17,286.08 1657.49,282.66 1657.8,274.73 1658.11,279.5 1658.42,282.07 1658.74,273.73 1659.05,272.95 1659.36,295.7 1659.68,275.49 1659.99,274.32 1660.3,289.12 1660.61,277.29 1660.93,295.07 1661.24,266.33 1661.55,283.77 1661.86,282.12 1662.18,268.85 1662.49,282.78 1662.8,275.07 1663.12,292.19 1663.43,287.23 1663.74,295.78 1664.05,283.47 1664.37,270.58 1664.68,278.97 1664.99,272.1 1665.31,291.97 1665.62,290.49 1665.93,286.14 1666.24,275.35 1666.56,277.59 1666.87,281.46 1667.18,274.82 1667.5,282.87 1667.81,281.52 1668.12,267.73 1668.43,287.4 1668.75,279.4 1669.06,264.54 1669.37,280.24 1669.68,273.95 1670,287.61 1670.31,260.95 1670.62,304.7 1670.94,293.1 1671.25,168.3 1671.56,264.45 1671.87,277.63 1672.19,284.03 1672.5,316.3 1672.81,277.51 1673.13,280.11 1673.44,288.51 1673.75,296.81 1674.06,292.77 1674.38,279.08 1674.69,278.07 1675,280.54 1675.31,282.88 1675.63,299.69 1675.94,280.79 1676.25,292.04 1676.57,280.87 1676.88,276.46 1677.19,288.33 1677.5,291.94 1677.82,270.97 1678.13,277.64 1678.44,287.92 1678.76,311.3 1679.07,281.81 1679.38,274.76 1679.69,269.64 1680.01,288.35 1680.32,287.99 1680.63,285.91 1680.94,272.59 1681.26,293.52 1681.57,282.47 1681.88,290.93 1682.2,278.51 1682.51,297.47 1682.82,277.39 1683.13,286.47 1683.45,283.63 1683.76,275.83 1684.07,269.4 1684.39,298.95 1684.7,270.86 1685.01,275.5 1685.32,284.36 1685.64,266.7 1685.95,279.34 1686.26,267.85 1686.57,287.47 1686.89,290.31 1687.2,268.56 1687.51,258.79 1687.83,274.71 1688.14,272.03 1688.45,286.23 1688.76,295.08 1689.08,283.65 1689.39,265.7 1689.7,300.65 1690.02,286.45 1690.33,301.21 1690.64,280.17 1690.95,272.21 1691.27,294.22 1691.58,285.56 1691.89,267.51 1692.2,282.22 1692.52,294.19 1692.83,294.99 1693.14,302.25 1693.46,273.26 1693.77,289.06 1694.08,270.37 1694.39,272.28 1694.71,288.16 1695.02,286.79 1695.33,273.2 1695.65,279.75 1695.96,278.51 1696.27,298.43 1696.58,271.96 1696.9,326.3 1697.21,304.9 1697.52,287.72 1697.83,276.91 1698.15,259.49 1698.46,285.18 1698.77,295.13 1699.09,259.22 1699.4,279.63 1699.71,284.02 1700.02,292.49 1700.34,291.74 1700.65,265.92 1700.96,284.12 1701.28,286.89 1701.59,286.6 1701.9,264.99 1702.21,287.43 1702.53,274.77 1702.84,278.53 1703.15,278.81 1703.46,290.42 1703.78,274.45 1704.09,264.57 1704.4,281.84 1704.72,290.87 1705.03,294.73 1705.34,279.32 1705.65,284.13 1705.97,282.39 1706.28,281.18 1706.59,296.65 1706.91,273.17 1707.22,278.86 1707.53,282.08 1707.84,278.89 1708.16,271.67 1708.47,280.74 1708.78,290.14 1709.09,269.17 1709.41,285.81 1709.72,288.84 1710.03,297.54 1710.35,281.22 1710.66,292.2 1710.97,286.7 1711.28,276.63 1711.6,280.95 1711.91,270.73 1712.22,278.13 1712.54,285.5 1712.85,284.73 1713.16,286.58 1713.47,274.58 1713.79,281.08 1714.1,285.57 1714.41,272.51 1714.72,280.3 1715.04,286.14 1715.35,297.03 1715.66,276.75 1715.98,278.82 1716.29,280.77 1716.6,285.81 1716.91,289.97 1717.23,283.66 1717.54,278.89 1717.85,282.67 1718.17,282.91 1718.48,286.69 1718.79,277.26 1719.1,278.42 1719.42,290.87 1719.73,271.32 1720.04,270.59 1720.36,269.96 1720.67,283.17 1720.98,284.16 1721.29,298.86 1721.61,269.56 1721.92,315.38 1722.23,287.7 1722.54,287 1722.86,266.6 1723.17,334.3 1723.48,297.92 1723.8,305.01 1724.11,292.98 1724.42,279.66 1724.73,280.49 1725.05,284.1 1725.36,290.6 1725.67,284.03 1725.99,268.96 1726.3,294.24 1726.61,280.92 1726.92,264.23 1727.24,275.54 1727.55,286.03 1727.86,274.46 1728.17,289.06 1728.49,281.23 1728.8,265.32 1729.11,261.87 1729.43,298.79 1729.74,274.15 1730.05,261.43 1730.36,286.85 1730.68,278.67 1730.99,266.03 1731.3,286.28 1731.62,276.74 1731.93,281.9 1732.24,300.65 1732.55,277.83 1732.87,283.14 1733.18,272.03 1733.49,260.44 1733.8,274.5 1734.12,284.95 1734.43,276.84 1734.74,279.31 1735.06,271.21 1735.37,295.46 1735.68,292.75 1735.99,301.34 1736.31,275.36 1736.62,281.49 1736.93,287.53 1737.25,288.35 1737.56,286.85 1737.87,290.28 1738.18,284.4 1738.5,286.06 1738.81,267.94 1739.12,278.2 1739.43,289.13 1739.75,286.88 1740.06,269.88 1740.37,277 1740.69,278.5 1741,274.48 1741.31,266.32 1741.62,292.77 1741.94,288.31 1742.25,297.63 1742.56,276.67" fill="none" stroke="#202020" stroke-width="0.36" stroke-linejoin="bevel"/>
<path d="M1464.51,337.21 1465.01,337.33 1465.51,337.51 1466.01,338.21 1466.51,336.91 1467.01,336.84 1467.51,335.5 1468.02,334.7 1468.52,337.25 1469.02,341.07 1469.52,343.22 1470.02,345.65 1470.52,348.53 1471.02,353.66 1471.52,355.24 1472.02,352.7 1472.52,350.27 1473.02,348.23 1473.53,345.82 1474.03,344.15 1474.53,342.22 1475.03,346.32 1475.53,349.98 1476.03,353.24 1476.53,357.88 1477.03,361.77 1477.53,366.26 1478.03,362.77 1478.54,361.07 1479.04,358.25 1479.54,357.08 1480.04,354.83 1480.54,352.24 1481.04,356.49 1481.54,361.36 1482.04,365.26 1482.54,356.53 1483.04,348.23 1483.54,340.68 1484.05,333.2 1484.55,328.51 1485.05,325.18 1485.55,328.68 1486.05,332.61 1486.55,336.21 1487.05,331.1 1487.55,326.19 1488.05,328.61 1488.55,331.23 1489.06,332.2 1489.56,325.91 1490.06,318.17 1490.56,314.33 1491.06,310.42 1491.56,307.15 1492.06,307.79 1492.56,308.62 1493.06,310.16 1493.56,308.5 1494.06,307.05 1494.57,305.15 1495.07,305.92 1495.57,306.59 1496.07,307.15 1496.57,310.24 1497.07,313.16 1497.57,307.75 1498.07,302.07 1498.57,297.13 1499.07,299.08 1499.58,299.71 1500.08,300.14 1500.58,301.64 1501.08,303.65 1501.58,306.15 1502.08,302.49 1502.58,299.49 1503.08,296.13 1503.58,296.15 1504.08,295.35 1504.58,294.13 1505.09,297.05 1505.59,299.4 1506.09,301.14 1506.59,300.41 1507.09,298.87 1507.59,297.13 1508.09,296.05 1508.59,294.39 1509.09,293.12 1509.59,290.16 1510.1,289.05 1510.6,287.11 1511.1,288.35 1511.6,287.32 1512.1,287.52 1512.6,288.11 1513.1,282.66 1513.6,276.09 1514.1,274.13 1514.6,271.82 1515.1,270.08 1515.61,272.61 1516.11,273.76 1516.61,275.09 1517.11,276.51 1517.61,276.78 1518.11,278.1 1518.61,278.12 1519.11,277.8 1519.61,277.77 1520.11,277.09 1520.62,279.98 1521.12,282.22 1521.62,283.95 1522.12,286.11 1522.62,284.99 1523.12,282.47 1523.62,281.96 1524.12,280.1 1524.62,279.85 1525.12,278.63 1525.62,277.79 1526.13,277.59 1526.63,278.94 1527.13,279.68 1527.63,281.91 1528.13,283.1 1528.63,280.76 1529.13,277.57 1529.63,275.62 1530.13,273.09 1530.63,270.67 1531.14,267.66 1531.64,264.07 1532.14,263.75 1532.64,262.23 1533.14,261.25 1533.64,260.56 1534.14,262.52 1534.64,265.23 1535.14,267.07 1535.64,268.62 1536.14,268.35 1536.65,268.7 1537.15,268.08 1537.65,269.32 1538.15,268.19 1538.65,269.47 1539.15,270.08 1539.65,266.34 1540.15,263.07 1540.65,263.09 1541.15,262.66 1541.66,261.06 1542.16,262.37 1542.66,264.42 1543.16,266.07 1543.66,267.13 1544.16,267.31 1544.66,267.98 1545.16,269.08 1545.66,269.71 1546.16,271.57 1546.66,272.08 1547.17,266.57 1547.67,262.69 1548.17,257.06 1548.67,255.77 1549.17,254.8 1549.67,253.05 1550.17,254.23 1550.67,253.35 1551.17,254.05 1551.67,255.6 1552.18,258.29 1552.68,260.06 1553.18,261.5 1553.68,263.67 1554.18,266.01 1554.68,268.08 1555.18,265.82 1555.68,262.72 1556.18,261.06 1556.68,260.1 1557.18,259.88 1557.69,259.55 1558.19,258.06 1558.69,258.98 1559.19,262.78 1559.69,264.55 1560.19,266.07 1560.69,263.14 1561.19,260.59 1561.69,259.06 1562.19,259.79 1562.7,259.83 1563.2,260.64 1563.7,261.06 1564.2,263.87 1564.7,265.53 1565.2,268.08 1565.7,272.17 1566.2,276.09 1566.7,271.34 1567.2,266.56 1567.7,261.06 1568.21,262.53 1568.71,263 1569.21,262.7 1569.71,263.07 1570.21,264.61 1570.71,267.71 1571.21,268.08 1571.71,267.93 1572.21,267.31 1572.71,265.97 1573.22,266.07 1573.72,263.16 1574.22,258.97 1574.72,256.05 1575.22,252.55 1575.72,249.54 1576.22,250.65 1576.72,252.93 1577.22,255.05 1577.72,258.09 1578.22,260.24 1578.73,264.07 1579.23,265.58 1579.73,268.03 1580.23,270.08 1580.73,270.64 1581.23,271.9 1581.73,273.38 1582.23,275.09 1582.73,275.32 1583.23,277.43 1583.74,277.55 1584.24,279.1 1584.74,275.84 1585.24,272.26 1585.74,268.08 1586.24,267.92 1586.74,269.08 1587.24,274.61 1587.74,280.1 1588.24,282.51 1588.74,284.82 1589.25,288.11 1589.75,289.93 1590.25,291.99 1590.75,294.52 1591.25,296.13 1591.5,290.17 1592,284.05 1592.5,276.21 1593.01,270.13 1593.51,262.9 1594.01,256.11 1594.51,256.4 1595.01,256.75 1595.51,256.11 1596.01,256.77 1596.51,260.82 1597.01,262.12 1597.51,263.28 1598.02,265.46 1598.52,265.64 1599.02,267.13 1599.52,265.67 1600.02,265.15 1600.52,264.12 1601.02,261.42 1601.52,257.46 1602.02,254.1 1602.52,248.13 1603.02,245.13 1603.53,240.08 1604.03,237.19 1604.53,235.53 1605.03,234.06 1605.53,233.68 1606.03,233.56 1606.53,234.13 1607.03,235.07 1607.53,234.4 1608.03,234.48 1608.54,234.66 1609.04,234.57 1609.54,235.55 1610.04,236.09 1610.54,238.07 1611.04,240.98 1611.54,244.62 1612.04,247.09 1612.54,247.86 1613.04,247.66 1613.54,248.18 1614.05,248.09 1614.55,248.25 1615.05,248.17 1615.55,247.09 1616.05,243.51 1616.55,238.07 1617.05,232.89 1617.55,228.05 1617.99,225.4 1618.42,223.85 1618.85,220.54 1619.46,225.66 1620.06,229.06 1620.56,234.91 1621.06,239.07 1621.56,237.66 1622.06,238.7 1622.56,236.91 1623.06,238.57 1623.56,238.47 1624.06,237.6 1624.57,237.07 1625.07,236.43 1625.57,235.66 1626.07,235.07 1626.57,237.79 1627.07,239.07 1627.57,241.92 1628.07,245.09 1628.57,248.66 1629.07,251.1 1629.58,250.4 1630.08,249.29 1630.58,248.09 1631.08,251.35 1631.58,254.1 1632.08,259.17 1632.58,264.12 1633.08,266.53 1633.58,270.13 1634.08,268.02 1634.58,265.12 1635.09,262.51 1635.59,259.03 1636.09,256.11 1636.59,255.17 1637.09,253.93 1637.59,252.1 1638.09,253.4 1638.59,256.11 1639.09,260.54 1639.59,265.12 1640.1,265.88 1640.6,266.63 1641.1,268.13 1641.6,268.64 1642.1,268.33 1642.6,269.13 1643.1,269.89 1643.6,271.27 1644.1,272.14 1644.6,271.66 1645.1,270.98 1645.61,270.13 1646.11,272.36 1646.61,272.14 1647.11,275.87 1647.61,280.15 1648.11,281.63 1648.61,282.16 1649.11,284.16 1649.61,284.93 1650.11,285.8 1650.62,286.33 1651.12,286.16 1651.62,286.19 1652.12,286.76 1652.62,287.99 1653.12,287.67 1653.62,287.78 1654.12,288.53 1654.62,288.17 1655.12,285.96 1655.62,285.59 1656.13,283.16 1656.63,283.1 1657.13,282.16 1657.63,280.84 1658.13,280.65 1658.63,280.19 1659.13,279.99 1659.63,279.67 1660.13,279.15 1660.63,277.42 1661.14,275.69 1661.64,274.14 1662.14,272.24 1662.64,270.9 1663.14,268.13 1663.64,267.69 1664.14,268.71 1664.64,270.13 1665.14,270.29 1665.64,271.76 1666.14,273.14 1666.65,271.93 1667.15,272.94 1667.65,272.44 1668.15,272.14 1668.65,271.75 1669.15,271.26 1669.65,271.47 1670.15,271.14 1670.65,271.57 1671.15,271.98 1671.66,272.14 1672.16,260.11 1672.66,258.88 1673.16,258.8 1673.66,257.61 1674.16,258.3 1674.66,261.3 1675.16,262.12 1675.66,262.43 1676.16,265.8 1676.66,268.13 1677.17,268.14 1677.67,269.9 1678.17,270.13 1678.67,268.31 1679.17,269.13 1679.67,267.13 1680.17,266.53 1680.67,268.74 1681.17,268.13 1681.67,268.13 1682.18,268.81 1682.68,269.7 1683.18,270.13 1683.68,273.34 1684.18,274.63 1684.68,276.14 1685.18,276.92 1685.68,280.81 1686.18,282.16 1686.68,280.61 1687.18,277.93 1687.69,277.15 1688.19,277.9 1688.69,277.15 1689.19,278.15 1689.69,274.24 1690.19,270.13 1690.69,267.92 1691.19,265.1 1691.69,263.12 1692.19,262.81 1692.7,261.22 1693.2,261.12 1693.7,261.97 1694.2,262.32 1694.7,263.27 1695.2,264.12 1695.7,266.52 1696.2,266.86 1696.7,268.13 1697.2,265.53 1697.7,264.06 1698.21,262.12 1698.71,260.44 1699.21,259.63 1699.71,258.45 1700.21,257.11 1700.71,257.41 1701.21,257.66 1701.71,257.56 1702.21,258.11 1702.71,258.26 1703.22,258.49 1703.72,257.47 1704.22,257.68 1704.72,257.61 1705.22,259.15 1705.72,261.3 1706.22,262.12 1706.72,263.21 1707.22,262.72 1707.72,263.66 1708.22,264.12 1708.73,264.64 1709.23,266.26 1709.73,268.13 1710.23,269.81 1710.73,271.82 1711.23,273.14 1711.73,271.99 1712.23,269.63 1712.73,268.13 1713.23,264.05 1713.74,261.67 1714.24,258.11 1714.74,256.35 1715.24,255 1715.74,253.1 1716.24,252.81 1716.74,252.74 1717.24,252.33 1717.74,251.6 1718.24,251.81 1718.74,250.84 1719.25,251.39 1719.75,250.6 1720.25,251.49 1720.75,252.98 1721.25,254.1 1721.75,259.13 1722.25,262.12 1722.75,269.33 1723.25,276.14 1723.75,279.18 1724.26,284.31 1724.76,287.17 1725.26,286.38 1725.76,285.12 1726.26,283.16 1726.76,282.26 1727.26,281.34 1727.76,280.02 1728.26,279.15 1728.76,278.01 1729.26,278.49 1729.77,276.69 1730.27,276.14 1730.77,274.88 1731.27,273.9 1731.77,274.16 1732.27,272.14 1732.77,271.12 1733.27,268.93 1733.77,267.6 1734.27,266.13 1734.78,264.9 1735.28,263.6 1735.78,260.73 1736.28,260.11 1736.78,259.28 1737.28,257.32 1737.78,256.11 1738.28,257.07 1738.78,258.56 1739.28,260.11 1739.78,261.22 1740.29,262.42 1740.79,262.12 1741.29,263.2 1741.79,264.12 1742.06,264.12 1742.06,281.3 1914.5,281.3" fill="none" stroke="#0000ff" stroke-width="4.1" stroke-linejoin="round" stroke-linecap="butt"/>
<line x1="1464.5" y1="281.3" x2="1914.5" y2="281.3" stroke="#000" stroke-width="1.25" stroke-dasharray="20 13.3" stroke-opacity="0.82"/>
<line x1="1465" y1="151.21" x2="1914" y2="151.21" stroke="#00ff00" stroke-width="3.2" />
<line x1="1465" y1="411.39" x2="1914" y2="411.39" stroke="#00ff00" stroke-width="3.2" />
<line x1="1743.06" y1="123.5" x2="1743.06" y2="418.5" stroke="#00ffff" stroke-width="3" />
<rect x="1737.16" y="103.5" width="110.1" height="40" fill="#fff" stroke="#00ffff" stroke-width="1"/>
<text x="1742.46" y="131" font-size="20.83" fill="#000" text-anchor="start" >time now</text>
<line x1="1464.5" y1="418.5" x2="1914.5" y2="418.5" stroke="#262626" stroke-width="1.1" />
<line x1="1914.5" y1="108" x2="1914.5" y2="419" stroke="#262626" stroke-width="1.1" />
<line x1="1464.5" y1="108" x2="1464.5" y2="419" stroke="#0000ff" stroke-width="1.1" />
<line x1="1464.5" y1="418.5" x2="1464.5" y2="413.7" stroke="#262626" stroke-width="1.1" />
<text x="1463.8" y="448" font-size="20.83" fill="#262626" text-anchor="middle" >0</text>
<line x1="1520.75" y1="418.5" x2="1520.75" y2="413.7" stroke="#262626" stroke-width="1.1" />
<text x="1520.05" y="448" font-size="20.83" fill="#262626" text-anchor="middle" >3</text>
<line x1="1577" y1="418.5" x2="1577" y2="413.7" stroke="#262626" stroke-width="1.1" />
<text x="1576.3" y="448" font-size="20.83" fill="#262626" text-anchor="middle" >6</text>
<line x1="1633.25" y1="418.5" x2="1633.25" y2="413.7" stroke="#262626" stroke-width="1.1" />
<text x="1632.55" y="448" font-size="20.83" fill="#262626" text-anchor="middle" >9</text>
<line x1="1689.5" y1="418.5" x2="1689.5" y2="413.7" stroke="#262626" stroke-width="1.1" />
<text x="1688.8" y="448" font-size="20.83" fill="#262626" text-anchor="middle" >12</text>
<line x1="1745.75" y1="418.5" x2="1745.75" y2="413.7" stroke="#262626" stroke-width="1.1" />
<text x="1745.05" y="448" font-size="20.83" fill="#262626" text-anchor="middle" >15</text>
<line x1="1802" y1="418.5" x2="1802" y2="413.7" stroke="#262626" stroke-width="1.1" />
<text x="1801.3" y="448" font-size="20.83" fill="#262626" text-anchor="middle" >18</text>
<line x1="1858.25" y1="418.5" x2="1858.25" y2="413.7" stroke="#262626" stroke-width="1.1" />
<text x="1857.55" y="448" font-size="20.83" fill="#262626" text-anchor="middle" >21</text>
<line x1="1914.5" y1="418.5" x2="1914.5" y2="413.7" stroke="#262626" stroke-width="1.1" />
<text x="1913.8" y="448" font-size="20.83" fill="#262626" text-anchor="middle" >24</text>
<line x1="1464.5" y1="132.62" x2="1469.3" y2="132.62" stroke="#0000ff" stroke-width="1.1" />
<text x="1455.3" y="139.82" font-size="20.83" fill="#0000ff" text-anchor="end" >40</text>
<line x1="1464.5" y1="206.96" x2="1469.3" y2="206.96" stroke="#0000ff" stroke-width="1.1" />
<text x="1455.3" y="214.16" font-size="20.83" fill="#0000ff" text-anchor="end" >20</text>
<line x1="1464.5" y1="281.3" x2="1469.3" y2="281.3" stroke="#0000ff" stroke-width="1.1" />
<text x="1455.3" y="288.5" font-size="20.83" fill="#0000ff" text-anchor="end" >0</text>
<line x1="1464.5" y1="355.64" x2="1469.3" y2="355.64" stroke="#0000ff" stroke-width="1.1" />
<text x="1455.3" y="362.84" font-size="20.83" fill="#0000ff" text-anchor="end" >-20</text>
<line x1="1914.5" y1="132.62" x2="1909.7" y2="132.62" stroke="#262626" stroke-width="1.1" />
<text x="1923.2" y="139.82" font-size="20.83" fill="#262626" text-anchor="start" >4</text>
<line x1="1914.5" y1="206.96" x2="1909.7" y2="206.96" stroke="#262626" stroke-width="1.1" />
<text x="1923.2" y="214.16" font-size="20.83" fill="#262626" text-anchor="start" >2</text>
<line x1="1914.5" y1="281.3" x2="1909.7" y2="281.3" stroke="#262626" stroke-width="1.1" />
<text x="1923.2" y="288.5" font-size="20.83" fill="#262626" text-anchor="start" >0</text>
<line x1="1914.5" y1="355.64" x2="1909.7" y2="355.64" stroke="#262626" stroke-width="1.1" />
<text x="1923.2" y="362.84" font-size="20.83" fill="#262626" text-anchor="start" >-2</text>
<text x="1688.7" y="478.6" font-size="22.92" fill="#262626" text-anchor="middle" >UT Time /h</text>
<text transform="translate(1410.2 263.7) rotate(-90)" font-size="16.67" fill="#0000ff" text-anchor="middle">X Mean Magnetic Field / nT</text>
<text transform="translate(1967 263.5) rotate(-90)" font-size="16.67" fill="#262626" text-anchor="middle">Rate of Change / nT/min</text>
<text x="1697.3" y="61.8" font-size="25" fill="#000" text-anchor="middle" >Dunedin</text>
<text x="1464.7" y="100" font-size="12.5" fill="#000" text-anchor="start" >File Updated:14-Oct-2025 14:49:02 UTC</text>
<rect x="275.5" y="537.5" width="112.2" height="310" fill="#e6e6e6" />
<rect x="633.63" y="537.5" width="93.87" height="310" fill="#e6e6e6" />
<line x1="275.5" y1="692.5" x2="727.5" y2="692.5" stroke="#000" stroke-width="1.1" />
<line x1="554.45" y1="553.2" x2="554.45" y2="847.5" stroke="#00ffff" stroke-width="3" />
<rect x="548.55" y="533.2" width="110.1" height="39" fill="#fff" stroke="#00ffff" stroke-width="1"/>
<text x="553.85" y="559.9" font-size="20.83" fill="#000" text-anchor="start" >time now</text>
<line x1="275" y1="847.5" x2="728" y2="847.5" stroke="#262626" stroke-width="1.1" />
<line x1="275.5" y1="537" x2="275.5" y2="847.5" stroke="#262626" stroke-width="1.1" />
<line x1="275.5" y1="847.5" x2="275.5" y2="842.7" stroke="#262626" stroke-width="1.1" />
<text x="274.8" y="877" font-size="20.83" fill="#262626" text-anchor="middle" >0</text>
<line x1="294.33" y1="847.5" x2="294.33" y2="842.7" stroke="#262626" stroke-width="1.1" />
<line x1="313.17" y1="847.5" x2="313.17" y2="842.7" stroke="#262626" stroke-width="1.1" />
<line x1="332" y1="847.5" x2="332" y2="842.7" stroke="#262626" stroke-width="1.1" />
<text x="331.3" y="877" font-size="20.83" fill="#262626" text-anchor="middle" >3</text>
<line x1="350.83" y1="847.5" x2="350.83" y2="842.7" stroke="#262626" stroke-width="1.1" />
<line x1="369.67" y1="847.5" x2="369.67" y2="842.7" stroke="#262626" stroke-width="1.1" />
<line x1="388.5" y1="847.5" x2="388.5" y2="842.7" stroke="#262626" stroke-width="1.1" />
<text x="387.8" y="877" font-size="20.83" fill="#262626" text-anchor="middle" >6</text>
<line x1="407.33" y1="847.5" x2="407.33" y2="842.7" stroke="#262626" stroke-width="1.1" />
<line x1="426.17" y1="847.5" x2="426.17" y2="842.7" stroke="#262626" stroke-width="1.1" />
<line x1="445" y1="847.5" x2="445" y2="842.7" stroke="#262626" stroke-width="1.1" />
<text x="444.3" y="877" font-size="20.83" fill="#262626" text-anchor="middle" >9</text>
<line x1="463.83" y1="847.5" x2="463.83" y2="842.7" stroke="#262626" stroke-width="1.1" />
<line x1="482.67" y1="847.5" x2="482.67" y2="842.7" stroke="#262626" stroke-width="1.1" />
<line x1="501.5" y1="847.5" x2="501.5" y2="842.7" stroke="#262626" stroke-width="1.1" />
<text x="500.8" y="877" font-size="20.83" fill="#262626" text-anchor="middle" >12</text>
<line x1="520.33" y1="847.5" x2="520.33" y2="842.7" stroke="#262626" stroke-width="1.1" />
<line x1="539.17" y1="847.5" x2="539.17" y2="842.7" stroke="#262626" stroke-width="1.1" />
<line x1="558" y1="847.5" x2="558" y2="842.7" stroke="#262626" stroke-width="1.1" />
<text x="557.3" y="877" font-size="20.83" fill="#262626" text-anchor="middle" >15</text>
<line x1="576.83" y1="847.5" x2="576.83" y2="842.7" stroke="#262626" stroke-width="1.1" />
<line x1="595.67" y1="847.5" x2="595.67" y2="842.7" stroke="#262626" stroke-width="1.1" />
<line x1="614.5" y1="847.5" x2="614.5" y2="842.7" stroke="#262626" stroke-width="1.1" />
<text x="613.8" y="877" font-size="20.83" fill="#262626" text-anchor="middle" >18</text>
<line x1="633.33" y1="847.5" x2="633.33" y2="842.7" stroke="#262626" stroke-width="1.1" />
<line x1="652.17" y1="847.5" x2="652.17" y2="842.7" stroke="#262626" stroke-width="1.1" />
<line x1="671" y1="847.5" x2="671" y2="842.7" stroke="#262626" stroke-width="1.1" />
<text x="670.3" y="877" font-size="20.83" fill="#262626" text-anchor="middle" >21</text>
<line x1="689.83" y1="847.5" x2="689.83" y2="842.7" stroke="#262626" stroke-width="1.1" />
<line x1="708.67" y1="847.5" x2="708.67" y2="842.7" stroke="#262626" stroke-width="1.1" />
<line x1="727.5" y1="847.5" x2="727.5" y2="842.7" stroke="#262626" stroke-width="1.1" />
<text x="726.8" y="877" font-size="20.83" fill="#262626" text-anchor="middle" >24</text>
<line x1="275.5" y1="537.5" x2="280.3" y2="537.5" stroke="#262626" stroke-width="1.1" />
<line x1="275.5" y1="614.5" x2="280.3" y2="614.5" stroke="#262626" stroke-width="1.1" />
<line x1="275.5" y1="692.5" x2="280.3" y2="692.5" stroke="#262626" stroke-width="1.1" />
<line x1="275.5" y1="770.5" x2="280.3" y2="770.5" stroke="#262626" stroke-width="1.1" />
<text x="736.1" y="605.8" font-size="16.67" fill="#262626" text-anchor="start" font-weight="bold">dB/dT Alert</text>
<text x="736.1" y="760.6" font-size="16.67" fill="#0000ff" text-anchor="start" font-weight="bold">B Alert</text>
<rect x="868.5" y="537.5" width="112.9" height="310" fill="#e6e6e6" />
<rect x="1227.62" y="537.5" width="93.88" height="310" fill="#e6e6e6" />
<rect x="883" y="598.9" width="7.1" height="32" fill="#00ff00" />
<rect x="869" y="754.1" width="25.1" height="31.8" fill="#00ff00" />
<line x1="868.5" y1="692.5" x2="1321.5" y2="692.5" stroke="#000" stroke-width="1.1" />
<line x1="1148.52" y1="553.2" x2="1148.52" y2="847.5" stroke="#00ffff" stroke-width="3" />
<rect x="1142.62" y="533.2" width="110.1" height="39" fill="#fff" stroke="#00ffff" stroke-width="1"/>
<text x="1147.92" y="559.9" font-size="20.83" fill="#000" text-anchor="start" >time now</text>
<line x1="868" y1="847.5" x2="1322" y2="847.5" stroke="#262626" stroke-width="1.1" />
<line x1="868.5" y1="537" x2="868.5" y2="847.5" stroke="#262626" stroke-width="1.1" />
<line x1="868.5" y1="847.5" x2="868.5" y2="842.7" stroke="#262626" stroke-width="1.1" />
<text x="867.8" y="877" font-size="20.83" fill="#262626" text-anchor="middle" >0</text>
<line x1="887.38" y1="847.5" x2="887.38" y2="842.7" stroke="#262626" stroke-width="1.1" />
<line x1="906.25" y1="847.5" x2="906.25" y2="842.7" stroke="#262626" stroke-width="1.1" />
<line x1="925.12" y1="847.5" x2="925.12" y2="842.7" stroke="#262626" stroke-width="1.1" />
<text x="924.42" y="877" font-size="20.83" fill="#262626" text-anchor="middle" >3</text>
<line x1="944" y1="847.5" x2="944" y2="842.7" stroke="#262626" stroke-width="1.1" />
<line x1="962.88" y1="847.5" x2="962.88" y2="842.7" stroke="#262626" stroke-width="1.1" />
<line x1="981.75" y1="847.5" x2="981.75" y2="842.7" stroke="#262626" stroke-width="1.1" />
<text x="981.05" y="877" font-size="20.83" fill="#262626" text-anchor="middle" >6</text>
<line x1="1000.62" y1="847.5" x2="1000.62" y2="842.7" stroke="#262626" stroke-width="1.1" />
<line x1="1019.5" y1="847.5" x2="1019.5" y2="842.7" stroke="#262626" stroke-width="1.1" />
<line x1="1038.38" y1="847.5" x2="1038.38" y2="842.7" stroke="#262626" stroke-width="1.1" />
<text x="1037.67" y="877" font-size="20.83" fill="#262626" text-anchor="middle" >9</text>
<line x1="1057.25" y1="847.5" x2="1057.25" y2="842.7" stroke="#262626" stroke-width="1.1" />
<line x1="1076.12" y1="847.5" x2="1076.12" y2="842.7" stroke="#262626" stroke-width="1.1" />
<line x1="1095" y1="847.5" x2="1095" y2="842.7" stroke="#262626" stroke-width="1.1" />
<text x="1094.3" y="877" font-size="20.83" fill="#262626" text-anchor="middle" >12</text>
<line x1="1113.88" y1="847.5" x2="1113.88" y2="842.7" stroke="#262626" stroke-width="1.1" />
<line x1="1132.75" y1="847.5" x2="1132.75" y2="842.7" stroke="#262626" stroke-width="1.1" />
<line x1="1151.62" y1="847.5" x2="1151.62" y2="842.7" stroke="#262626" stroke-width="1.1" />
<text x="1150.92" y="877" font-size="20.83" fill="#262626" text-anchor="middle" >15</text>
<line x1="1170.5" y1="847.5" x2="1170.5" y2="842.7" stroke="#262626" stroke-width="1.1" />
<line x1="1189.38" y1="847.5" x2="1189.38" y2="842.7" stroke="#262626" stroke-width="1.1" />
<line x1="1208.25" y1="847.5" x2="1208.25" y2="842.7" stroke="#262626" stroke-width="1.1" />
<text x="1207.55" y="877" font-size="20.83" fill="#262626" text-anchor="middle" >18</text>
<line x1="1227.12" y1="847.5" x2="1227.12" y2="842.7" stroke="#262626" stroke-width="1.1" />
<line x1="1246" y1="847.5" x2="1246" y2="842.7" stroke="#262626" stroke-width="1.1" />
<line x1="1264.88" y1="847.5" x2="1264.88" y2="842.7" stroke="#262626" stroke-width="1.1" />
<text x="1264.17" y="877" font-size="20.83" fill="#262626" text-anchor="middle" >21</text>
<line x1="1283.75" y1="847.5" x2="1283.75" y2="842.7" stroke="#262626" stroke-width="1.1" />
<line x1="1302.62" y1="847.5" x2="1302.62" y2="842.7" stroke="#262626" stroke-width="1.1" />
<line x1="1321.5" y1="847.5" x2="1321.5" y2="842.7" stroke="#262626" stroke-width="1.1" />
<text x="1320.8" y="877" font-size="20.83" fill="#262626" text-anchor="middle" >24</text>
<line x1="868.5" y1="537.5" x2="873.3" y2="537.5" stroke="#262626" stroke-width="1.1" />
<line x1="868.5" y1="614.5" x2="873.3" y2="614.5" stroke="#262626" stroke-width="1.1" />
<line x1="868.5" y1="692.5" x2="873.3" y2="692.5" stroke="#262626" stroke-width="1.1" />
<line x1="868.5" y1="770.5" x2="873.3" y2="770.5" stroke="#262626" stroke-width="1.1" />
<text x="1330.1" y="605.8" font-size="16.67" fill="#262626" text-anchor="start" font-weight="bold">dB/dT Alert</text>
<text x="1330.1" y="760.6" font-size="16.67" fill="#0000ff" text-anchor="start" font-weight="bold">B Alert</text>
<rect x="1464.5" y="537.5" width="112.3" height="310" fill="#e6e6e6" />
<rect x="1821.6" y="537.5" width="92.9" height="310" fill="#e6e6e6" />
<rect x="1479.9" y="598.9" width="6.2" height="32.1" fill="#00ff00" />
<line x1="1464.5" y1="692.5" x2="1914.5" y2="692.5" stroke="#000" stroke-width="1.1" />
<line x1="1743.06" y1="553.2" x2="1743.06" y2="847.5" stroke="#00ffff" stroke-width="3" />
<rect x="1737.16" y="533.2" width="110.1" height="39" fill="#fff" stroke="#00ffff" stroke-width="1"/>
<text x="1742.46" y="559.9" font-size="20.83" fill="#000" text-anchor="start" >time now</text>
<line x1="1464" y1="847.5" x2="1915" y2="847.5" stroke="#262626" stroke-width="1.1" />
<line x1="1464.5" y1="537" x2="1464.5" y2="847.5" stroke="#262626" stroke-width="1.1" />
<line x1="1464.5" y1="847.5" x2="1464.5" y2="842.7" stroke="#262626" stroke-width="1.1" />
<text x="1463.8" y="877" font-size="20.83" fill="#262626" text-anchor="middle" >0</text>
<line x1="1483.25" y1="847.5" x2="1483.25" y2="842.7" stroke="#262626" stroke-width="1.1" />
<line x1="1502" y1="847.5" x2="1502" y2="842.7" stroke="#262626" stroke-width="1.1" />
<line x1="1520.75" y1="847.5" x2="1520.75" y2="842.7" stroke="#262626" stroke-width="1.1" />
<text x="1520.05" y="877" font-size="20.83" fill="#262626" text-anchor="middle" >3</text>
<line x1="1539.5" y1="847.5" x2="1539.5" y2="842.7" stroke="#262626" stroke-width="1.1" />
<line x1="1558.25" y1="847.5" x2="1558.25" y2="842.7" stroke="#262626" stroke-width="1.1" />
<line x1="1577" y1="847.5" x2="1577" y2="842.7" stroke="#262626" stroke-width="1.1" />
<text x="1576.3" y="877" font-size="20.83" fill="#262626" text-anchor="middle" >6</text>
<line x1="1595.75" y1="847.5" x2="1595.75" y2="842.7" stroke="#262626" stroke-width="1.1" />
<line x1="1614.5" y1="847.5" x2="1614.5" y2="842.7" stroke="#262626" stroke-width="1.1" />
<line x1="1633.25" y1="847.5" x2="1633.25" y2="842.7" stroke="#262626" stroke-width="1.1" />
<text x="1632.55" y="877" font-size="20.83" fill="#262626" text-anchor="middle" >9</text>
<line x1="1652" y1="847.5" x2="1652" y2="842.7" stroke="#262626" stroke-width="1.1" />
<line x1="1670.75" y1="847.5" x2="1670.75" y2="842.7" stroke="#262626" stroke-width="1.1" />
<line x1="1689.5" y1="847.5" x2="1689.5" y2="842.7" stroke="#262626" stroke-width="1.1" />
<text x="1688.8" y="877" font-size="20.83" fill="#262626" text-anchor="middle" >12</text>
<line x1="1708.25" y1="847.5" x2="1708.25" y2="842.7" stroke="#262626" stroke-width="1.1" />
<line x1="1727" y1="847.5" x2="1727" y2="842.7" stroke="#262626" stroke-width="1.1" />
<line x1="1745.75" y1="847.5" x2="1745.75" y2="842.7" stroke="#262626" stroke-width="1.1" />
<text x="1745.05" y="877" font-size="20.83" fill="#262626" text-anchor="middle" >15</text>
<line x1="1764.5" y1="847.5" x2="1764.5" y2="842.7" stroke="#262626" stroke-width="1.1" />
<line x1="1783.25" y1="847.5" x2="1783.25" y2="842.7" stroke="#262626" stroke-width="1.1" />
<line x1="1802" y1="847.5" x2="1802" y2="842.7" stroke="#262626" stroke-width="1.1" />
<text x="1801.3" y="877" font-size="20.83" fill="#262626" text-anchor="middle" >18</text>
<line x1="1820.75" y1="847.5" x2="1820.75" y2="842.7" stroke="#262626" stroke-width="1.1" />
<line x1="1839.5" y1="847.5" x2="1839.5" y2="842.7" stroke="#262626" stroke-width="1.1" />
<line x1="1858.25" y1="847.5" x2="1858.25" y2="842.7" stroke="#262626" stroke-width="1.1" />
<text x="1857.55" y="877" font-size="20.83" fill="#262626" text-anchor="middle" >21</text>
<line x1="1877" y1="847.5" x2="1877" y2="842.7" stroke="#262626" stroke-width="1.1" />
<line x1="1895.75" y1="847.5" x2="1895.75" y2="842.7" stroke="#262626" stroke-width="1.1" />
<line x1="1914.5" y1="847.5" x2="1914.5" y2="842.7" stroke="#262626" stroke-width="1.1" />
<text x="1913.8" y="877" font-size="20.83" fill="#262626" text-anchor="middle" >24</text>
<line x1="1464.5" y1="537.5" x2="1469.3" y2="537.5" stroke="#262626" stroke-width="1.1" />
<line x1="1464.5" y1="614.5" x2="1469.3" y2="614.5" stroke="#262626" stroke-width="1.1" />
<line x1="1464.5" y1="692.5" x2="1469.3" y2="692.5" stroke="#262626" stroke-width="1.1" />
<line x1="1464.5" y1="770.5" x2="1469.3" y2="770.5" stroke="#262626" stroke-width="1.1" />
<rect x="268" y="882" width="160" height="40" fill="#00ff00" />
<text x="275.4" y="908.8" font-size="20.83" fill="#000" text-anchor="start" >minor activity</text>
<rect x="432" y="882" width="197" height="40" fill="#ffff00" />
<text x="439.2" y="908.8" font-size="20.83" fill="#000" text-anchor="start" >moderate activity</text>
<rect x="629" y="882" width="166" height="40" fill="#ff0000" />
<text x="636.2" y="908.8" font-size="20.83" fill="#000" text-anchor="start" >strong activity</text>
<text x="1258.5" y="909" font-size="21.3" fill="#000" text-anchor="start" >Current Warning:</text>
<text x="1455.4" y="912.2" font-size="31.25" fill="#000" text-anchor="start" >0.0/9</text>
<rect x="275.5" y="934.7" width="408.85" height="331.8" fill="#e6e6e6" />
<rect x="1573.94" y="934.7" width="340.56" height="331.8" fill="#e6e6e6" />
<rect x="275.5" y="1241.92" width="11.38" height="24.58" fill="#00ff00" stroke="#000" stroke-width="1"/>
<rect x="286.88" y="1241.92" width="11.38" height="24.58" fill="#00ff00" stroke="#000" stroke-width="1"/>
<rect x="298.26" y="1241.92" width="11.38" height="24.58" fill="#00ff00" stroke="#000" stroke-width="1"/>
<rect x="309.65" y="1241.92" width="11.38" height="24.58" fill="#00ff00" stroke="#000" stroke-width="1"/>
<rect x="321.03" y="1241.92" width="11.38" height="24.58" fill="#00ff00" stroke="#000" stroke-width="1"/>
<rect x="332.41" y="1217.34" width="11.38" height="49.16" fill="#00ff00" stroke="#000" stroke-width="1"/>
<rect x="343.79" y="1241.92" width="11.38" height="24.58" fill="#00ff00" stroke="#000" stroke-width="1"/>
<line x1="1288.47" y1="953.7" x2="1288.47" y2="1266.5" stroke="#00ffff" stroke-width="3" />
<rect x="1282.57" y="933.7" width="110.1" height="39.7" fill="#fff" stroke="#00ffff" stroke-width="1"/>
<text x="1288.87" y="960.7" font-size="20.83" fill="#000" text-anchor="start" >time now</text>
<line x1="275" y1="1266.5" x2="1915" y2="1266.5" stroke="#262626" stroke-width="1.1" />
<line x1="275.5" y1="934.7" x2="275.5" y2="1266.5" stroke="#262626" stroke-width="1.1" />
<line x1="275.5" y1="1266.5" x2="275.5" y2="1250.1" stroke="#262626" stroke-width="1.1" />
<text x="274.7" y="1295" font-size="20.83" fill="#262626" text-anchor="middle" >0</text>
<line x1="343.79" y1="1266.5" x2="343.79" y2="1250.1" stroke="#262626" stroke-width="1.1" />
<text x="342.99" y="1295" font-size="20.83" fill="#262626" text-anchor="middle" >1</text>
<line x1="412.08" y1="1266.5" x2="412.08" y2="1250.1" stroke="#262626" stroke-width="1.1" />
<text x="411.28" y="1295" font-size="20.83" fill="#262626" text-anchor="middle" >2</text>
<line x1="480.38" y1="1266.5" x2="480.38" y2="1250.1" stroke="#262626" stroke-width="1.1" />
<text x="479.57" y="1295" font-size="20.83" fill="#262626" text-anchor="middle" >3</text>
<line x1="548.67" y1="1266.5" x2="548.67" y2="1250.1" stroke="#262626" stroke-width="1.1" />
<text x="547.87" y="1295" font-size="20.83" fill="#262626" text-anchor="middle" >4</text>
<line x1="616.96" y1="1266.5" x2="616.96" y2="1250.1" stroke="#262626" stroke-width="1.1" />
<text x="616.16" y="1295" font-size="20.83" fill="#262626" text-anchor="middle" >5</text>
<line x1="685.25" y1="1266.5" x2="685.25" y2="1250.1" stroke="#262626" stroke-width="1.1" />
<text x="684.45" y="1295" font-size="20.83" fill="#262626" text-anchor="middle" >6</text>
<line x1="753.54" y1="1266.5" x2="753.54" y2="1250.1" stroke="#262626" stroke-width="1.1" />
<text x="752.74" y="1295" font-size="20.83" fill="#262626" text-anchor="middle" >7</text>
<line x1="821.83" y1="1266.5" x2="821.83" y2="1250.1" stroke="#262626" stroke-width="1.1" />
<text x="821.03" y="1295" font-size="20.83" fill="#262626" text-anchor="middle" >8</text>
<line x1="890.12" y1="1266.5" x2="890.12" y2="1250.1" stroke="#262626" stroke-width="1.1" />
<text x="889.33" y="1295" font-size="20.83" fill="#262626" text-anchor="middle" >9</text>
<line x1="958.42" y1="1266.5" x2="958.42" y2="1250.1" stroke="#262626" stroke-width="1.1" />
<text x="957.62" y="1295" font-size="20.83" fill="#262626" text-anchor="middle" >10</text>
<line x1="1026.71" y1="1266.5" x2="1026.71" y2="1250.1" stroke="#262626" stroke-width="1.1" />
<text x="1025.91" y="1295" font-size="20.83" fill="#262626" text-anchor="middle" >11</text>
<line x1="1095" y1="1266.5" x2="1095" y2="1250.1" stroke="#262626" stroke-width="1.1" />
<text x="1094.2" y="1295" font-size="20.83" fill="#262626" text-anchor="middle" >12</text>
<line x1="1163.29" y1="1266.5" x2="1163.29" y2="1250.1" stroke="#262626" stroke-width="1.1" />
<text x="1162.49" y="1295" font-size="20.83" fill="#262626" text-anchor="middle" >13</text>
<line x1="1231.58" y1="1266.5" x2="1231.58" y2="1250.1" stroke="#262626" stroke-width="1.1" />
<text x="1230.78" y="1295" font-size="20.83" fill="#262626" text-anchor="middle" >14</text>
<line x1="1299.88" y1="1266.5" x2="1299.88" y2="1250.1" stroke="#262626" stroke-width="1.1" />
<text x="1299.08" y="1295" font-size="20.83" fill="#262626" text-anchor="middle" >15</text>
<line x1="1368.17" y1="1266.5" x2="1368.17" y2="1250.1" stroke="#262626" stroke-width="1.1" />
<text x="1367.37" y="1295" font-size="20.83" fill="#262626" text-anchor="middle" >16</text>
<line x1="1436.46" y1="1266.5" x2="1436.46" y2="1250.1" stroke="#262626" stroke-width="1.1" />
<text x="1435.66" y="1295" font-size="20.83" fill="#262626" text-anchor="middle" >17</text>
<line x1="1504.75" y1="1266.5" x2="1504.75" y2="1250.1" stroke="#262626" stroke-width="1.1" />
<text x="1503.95" y="1295" font-size="20.83" fill="#262626" text-anchor="middle" >18</text>
<line x1="1573.04" y1="1266.5" x2="1573.04" y2="1250.1" stroke="#262626" stroke-width="1.1" />
<text x="1572.24" y="1295" font-size="20.83" fill="#262626" text-anchor="middle" >19</text>
<line x1="1641.33" y1="1266.5" x2="1641.33" y2="1250.1" stroke="#262626" stroke-width="1.1" />
<text x="1640.53" y="1295" font-size="20.83" fill="#262626" text-anchor="middle" >20</text>
<line x1="1709.62" y1="1266.5" x2="1709.62" y2="1250.1" stroke="#262626" stroke-width="1.1" />
<text x="1708.83" y="1295" font-size="20.83" fill="#262626" text-anchor="middle" >21</text>
<line x1="1777.92" y1="1266.5" x2="1777.92" y2="1250.1" stroke="#262626" stroke-width="1.1" />
<text x="1777.12" y="1295" font-size="20.83" fill="#262626" text-anchor="middle" >22</text>
<line x1="1846.21" y1="1266.5" x2="1846.21" y2="1250.1" stroke="#262626" stroke-width="1.1" />
<text x="1845.41" y="1295" font-size="20.83" fill="#262626" text-anchor="middle" >23</text>
<line x1="1914.5" y1="1266.5" x2="1914.5" y2="1250.1" stroke="#262626" stroke-width="1.1" />
<text x="265.5" y="1273.7" font-size="20.83" fill="#262626" text-anchor="end" >0</text>
<line x1="275.5" y1="1192.77" x2="291.9" y2="1192.77" stroke="#262626" stroke-width="1.1" />
<text x="265.5" y="1199.97" font-size="20.83" fill="#262626" text-anchor="end" >2</text>
<line x1="275.5" y1="1119.03" x2="291.9" y2="1119.03" stroke="#262626" stroke-width="1.1" />
<text x="265.5" y="1126.23" font-size="20.83" fill="#262626" text-anchor="end" >4</text>
<line x1="275.5" y1="1045.3" x2="291.9" y2="1045.3" stroke="#262626" stroke-width="1.1" />
<text x="265.5" y="1052.5" font-size="20.83" fill="#262626" text-anchor="end" >6</text>
<line x1="275.5" y1="971.57" x2="291.9" y2="971.57" stroke="#262626" stroke-width="1.1" />
<text x="265.5" y="978.77" font-size="20.83" fill="#262626" text-anchor="end" >8</text>
<text transform="translate(240.5 1101) rotate(-90)" font-size="22.92" fill="#262626" text-anchor="middle">Warning Values</text>
<text x="1094.2" y="1326.6" font-size="22.92" fill="#262626" text-anchor="middle" >Time UTC / h</text>
<text x="849" y="1359.3" font-size="20.83" fill="#000" text-anchor="start" >Last updated: Wed 15 Oct 2025 03:50:35 NZDT</text>
</svg>
</body></html>
